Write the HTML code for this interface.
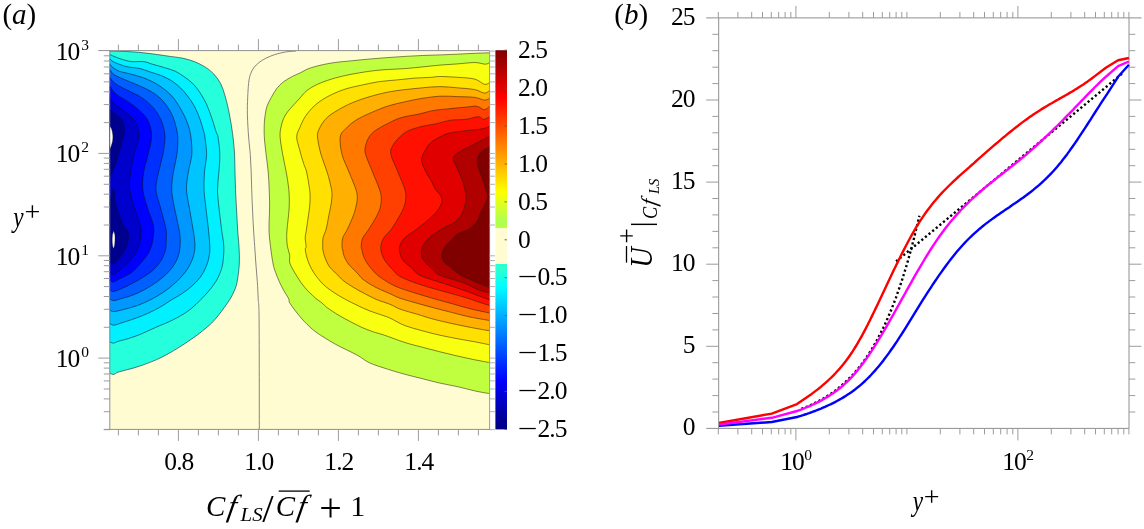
<!DOCTYPE html>
<html><head><meta charset="utf-8"><title>figure</title><style>html,body{margin:0;padding:0;background:#fff}</style></head><body>
<svg width="1144" height="529" viewBox="0 0 1144 529" style="display:block">
<rect width="1144" height="529" fill="#fff"/>
<defs><clipPath id="cp"><rect x="109.8" y="50.6" width="379.8" height="378.8"/></clipPath>
<linearGradient id="cb" x1="0" y1="0" x2="0" y2="1"><stop offset="0.0000" stop-color="#800000"/><stop offset="0.0250" stop-color="#990000"/><stop offset="0.0500" stop-color="#b20000"/><stop offset="0.0750" stop-color="#cc0000"/><stop offset="0.1000" stop-color="#e60000"/><stop offset="0.1250" stop-color="#ff0000"/><stop offset="0.1500" stop-color="#ff1a00"/><stop offset="0.1750" stop-color="#ff3400"/><stop offset="0.2000" stop-color="#ff4d00"/><stop offset="0.2250" stop-color="#ff6700"/><stop offset="0.2500" stop-color="#ff8000"/><stop offset="0.2750" stop-color="#ff9a00"/><stop offset="0.3000" stop-color="#ffb400"/><stop offset="0.3250" stop-color="#ffcd00"/><stop offset="0.3500" stop-color="#ffe700"/><stop offset="0.3750" stop-color="#fdff02"/><stop offset="0.4000" stop-color="#e4ff1b"/><stop offset="0.4250" stop-color="#caff35"/><stop offset="0.4500" stop-color="#b0ff4f"/><stop offset="0.4679" stop-color="#b4ff4a"/><stop offset="0.4684" stop-color="#fffcd2"/><stop offset="0.5630" stop-color="#fffcd2"/><stop offset="0.5635" stop-color="#28ffd8"/><stop offset="0.5750" stop-color="#30ffcf"/><stop offset="0.6000" stop-color="#16ffe9"/><stop offset="0.6250" stop-color="#00fcff"/><stop offset="0.6500" stop-color="#00e2ff"/><stop offset="0.6750" stop-color="#00c9ff"/><stop offset="0.7000" stop-color="#00afff"/><stop offset="0.7250" stop-color="#0095ff"/><stop offset="0.7500" stop-color="#007cff"/><stop offset="0.7750" stop-color="#0062ff"/><stop offset="0.8000" stop-color="#0048ff"/><stop offset="0.8250" stop-color="#002fff"/><stop offset="0.8500" stop-color="#0015ff"/><stop offset="0.8750" stop-color="#0000fa"/><stop offset="0.9000" stop-color="#0000e1"/><stop offset="0.9250" stop-color="#0000c7"/><stop offset="0.9500" stop-color="#0000ad"/><stop offset="0.9750" stop-color="#000094"/><stop offset="1.0000" stop-color="#000080"/></linearGradient></defs>
<g clip-path="url(#cp)">
<rect x="109.8" y="50.6" width="379.8" height="378.8" fill="#fffcd2"/>
<path d="M110 51C111.2 51 112.8 50.9 117.5 51.1C122.2 51.3 131.8 51.7 138.5 52.3C145.2 52.9 152.5 53.9 157.7 54.6C162.9 55.3 165.8 55.8 169.9 56.4C174 57 178.1 57.2 182.2 58.1C186.3 59 190.6 60.1 194.4 61.6C198.2 63.1 201.7 64.9 204.9 66.9C208.1 68.9 211 71 213.6 73.8C216.2 76.6 218.7 79.8 220.6 83.5C222.5 87.2 223.7 91.3 225 95.7C226.3 100.1 227.5 105 228.5 109.7C229.5 114.4 230.3 119.2 231.1 123.7C231.8 128.2 232.4 131.9 233 137C233.6 142.1 234.3 148.7 234.6 154.5C234.9 160.3 234.8 166.2 235 172C235.2 177.8 235.3 183.6 235.5 189.4C235.7 195.2 236.1 200.3 236.4 206.9C236.8 213.5 237.2 222.4 237.6 229C238 235.6 238.7 240.7 239 246.5C239.3 252.3 239.6 258.2 239.3 264C239 269.8 238 277 237.2 281.4C236.4 285.8 235.8 287.3 234.6 290.2C233.4 293.1 231.9 296 230.2 298.9C228.4 301.8 226 305.1 224.1 307.7C222.2 310.3 220.7 312.5 218.9 314.7C217.2 316.9 215.2 319.2 213.6 321C211.9 322.8 211.3 323.5 209 325.5C206.7 327.5 203.1 330.5 200 332.9C196.9 335.3 194.1 337.3 190.7 339.7C187.3 342.1 183.2 344.7 179.4 347.1C175.6 349.5 171.8 351.8 168 353.9C164.2 356 160.5 357.9 156.7 359.6C152.9 361.3 149.2 362.7 145.4 364.1C141.6 365.5 137.8 366.8 134 367.9C130.2 369 125.5 370.1 122.7 370.9C119.9 371.7 118.5 372 117 372.6C115.5 373.2 114.8 374.4 113.6 374.5C112.4 374.6 110.6 373.4 110 373.2L107.8 373.2 L107.8 51 Z" fill="#26ffdc"/>
<path d="M110 54.6C110.7 54.9 112.2 55.7 114 56.4C115.8 57.1 118.1 58.1 121 59C123.9 59.9 127.7 61.2 131.5 61.6C135.3 62 140.2 61.2 143.7 61.6C147.2 62 148.9 63.2 152.4 64.2C155.9 65.2 160.9 66.5 164.7 67.7C168.5 68.9 172 69.7 175.2 71.2C178.4 72.7 181 74.5 183.9 76.5C186.8 78.5 190.1 80.9 192.7 83.5C195.3 86.1 197.4 88.7 199.7 92.2C202 95.7 204.6 100 206.6 104.4C208.6 108.8 210.3 113.7 211.9 118.4C213.5 123.1 215.3 129.3 216.3 132.4C217.3 135.5 217.4 133.3 218 137C218.6 140.7 219.7 148.7 219.8 154.5C220 160.3 219.3 166.2 218.9 172C218.5 177.8 217.5 183.6 217.5 189.4C217.5 195.2 218.2 200.3 218.9 206.9C219.6 213.5 220.7 222.4 221.5 229C222.3 235.6 223.6 240.9 223.8 246.5C224 252.1 223.5 258.3 222.9 262.7C222.3 267.1 221.3 269.7 220.1 272.9C218.9 276.1 217.5 278.9 215.6 281.9C213.7 284.9 211.3 288.1 208.8 291C206.3 293.9 203.8 296.6 200.8 299.6C197.8 302.6 194.3 306.3 190.7 309.1C187.1 311.9 183.2 314.3 179.4 316.5C175.6 318.7 171.2 320.7 168 322.2C164.8 323.7 162.9 324.3 160.1 325.5C157.3 326.7 154.4 328 151 329.5C147.6 331 143.5 333.1 139.7 334.6C135.9 336.1 131.9 337.5 128.3 338.6C124.7 339.7 120.5 340.6 118.1 341.4C115.6 342.1 114.9 343 113.6 343.1C112.2 343.2 110.6 342.2 110 342L107.8 342 L107.8 54.6 Z" fill="#00f0ff"/>
<path d="M110 59C110.5 59.4 111.6 60.7 113.1 61.6C114.6 62.5 116.7 63.3 119.2 64.2C121.7 65.1 124.5 66.2 128 66.9C131.5 67.6 136.4 67.7 140.2 68.6C144 69.5 147.2 70.9 150.7 72.1C154.2 73.3 157.7 74.1 161.2 75.6C164.7 77 168.5 78.8 171.7 80.8C174.9 82.8 177.8 85.3 180.4 87.8C183 90.3 185.1 92.6 187.4 95.7C189.7 98.8 192.4 102.4 194.4 106.2C196.4 110 198.1 114 199.7 118.4C201.3 122.8 203.1 129.3 204 132.4C204.9 135.5 204.5 133.3 204.9 137C205.3 140.7 206.7 148.7 206.6 154.5C206.5 160.3 204.9 166.2 204.5 172C204.1 177.8 203.8 183.6 204 189.4C204.2 195.2 205.1 200.3 205.8 206.9C206.5 213.5 207.7 222.4 208.4 229C209.1 235.6 209.7 242.1 209.8 246.5C210 250.9 209.7 252.5 209.3 255.2C208.9 257.9 208.6 259.8 207.6 262.7C206.6 265.6 205 269.7 203.1 272.9C201.2 276.1 199 279.1 196.3 281.9C193.7 284.7 190.2 287.5 187.2 289.9C184.2 292.3 180.8 294.4 178.1 296.1C175.4 297.8 174.1 298.3 171.3 300C168.5 301.7 165.1 304.2 161.2 306.5C157.2 308.8 152.1 311.4 147.6 313.5C143.1 315.6 138.5 317.2 134 318.8C129.5 320.4 123.8 322.2 120.4 323.3C117 324.4 115.3 325.2 113.6 325.2C111.9 325.2 110.6 323.8 110 323.5L107.8 323.5 L107.8 59 Z" fill="#00c4ff"/>
<path d="M110 64.2C110.4 64.7 110.7 65.7 112.2 66.9C113.7 68.1 116.3 70.1 119.2 71.2C122.1 72.3 125.9 72.8 129.7 73.8C133.5 74.8 138.2 76 142 77.3C145.8 78.6 149.2 80.1 152.4 81.7C155.6 83.3 158.3 85 161.2 87C164.1 89 167.3 91.4 169.9 94C172.5 96.6 174.6 99.2 176.9 102.7C179.2 106.2 182 111.1 183.9 114.9C185.8 118.7 187.1 121.7 188.3 125.4C189.5 129.1 190.3 132.2 190.9 137C191.5 141.8 192.2 148.7 191.8 154.5C191.4 160.3 189.2 166.2 188.3 172C187.4 177.8 186.3 183.6 186.5 189.4C186.7 195.2 188.1 200.3 189.2 206.9C190.3 213.5 192.1 223.5 193 229C193.9 234.5 194.3 236.7 194.6 240C194.9 243.3 195.2 245.8 194.8 249C194.5 252.2 193.8 255.6 192.5 259C191.2 262.4 189 266.6 187 269.7C185 272.8 182.8 275.2 180.5 277.7C178.2 280.2 175.9 282.3 173 284.8C170.1 287.3 166.7 290.1 163 292.5C159.3 294.9 155.3 297.3 151 299.5C146.7 301.7 142.1 303.8 137.4 305.5C132.7 307.2 126.7 308.7 122.7 309.7C118.7 310.7 115.7 311.6 113.6 311.6C111.5 311.7 110.6 310.3 110 310L107.8 310 L107.8 64.2 Z" fill="#0098ff"/>
<path d="M110 69.5C110.5 70.2 111.6 72.5 113.1 73.8C114.6 75.1 116.4 76 119.2 77.3C122 78.6 126.2 80.2 129.7 81.7C133.2 83.2 136.7 84.5 140.2 86.1C143.7 87.7 147.5 89.4 150.7 91.3C153.9 93.2 156.8 95.1 159.4 97.4C162 99.7 164.4 102.5 166.4 105.3C168.4 108.1 170.2 111 171.7 114.1C173.2 117.2 174.2 119.9 175.2 123.7C176.2 127.5 177.5 131.9 177.8 137C178.1 142.1 177.6 148.7 176.9 154.5C176.2 160.3 174.3 166.2 173.4 172C172.5 177.8 171.5 183.6 171.7 189.4C171.8 195.2 173.1 200.3 174.3 206.9C175.5 213.5 178 223.5 179 229C180 234.5 180.1 236.7 180.2 240C180.3 243.3 180.2 246.1 179.8 249.1C179.4 252.1 178.8 255.1 177.6 258.1C176.4 261.1 174.4 264.5 172.5 267.2C170.6 269.9 168.1 272.4 166 274.5C163.9 276.6 161.9 278 160 279.5C158.1 281 157.2 281.8 154.4 283.6C151.6 285.4 146.9 288.4 143.1 290.4C139.3 292.4 135.5 294.1 131.7 295.5C127.9 296.9 123.4 298 120.4 298.9C117.4 299.8 115.3 300.6 113.6 300.6C111.9 300.6 110.6 299.3 110 299L107.8 299 L107.8 69.5 Z" fill="#0060ff"/>
<path d="M110 77.3C110.5 78 111.6 80.2 113.1 81.7C114.6 83.2 116.7 84.6 119.2 86.1C121.7 87.6 124.8 88.9 128 90.5C131.2 92.1 135.3 93.8 138.5 95.7C141.7 97.6 144.6 99.6 147.2 101.8C149.8 104 152.2 106.3 154.2 108.8C156.2 111.3 157.9 113.9 159.4 116.7C160.9 119.5 162 122 162.9 125.4C163.8 128.8 165 132.2 165 137C165 141.8 164 148.7 162.9 154.5C161.8 160.3 159.8 166.2 158.6 172C157.4 177.8 155.6 183.6 155.9 189.4C156.2 195.2 158.6 200.3 160.3 206.9C162 213.5 165 223.5 166 229C167 234.5 166.2 236.7 166.2 240C166.1 243.3 166.2 246.4 165.7 249.1C165.2 251.8 164.3 253.7 163.4 255.9C162.5 258.1 161.7 259.8 160 262.1C158.3 264.5 155.7 267.7 153.3 270C150.9 272.3 148.6 273.6 145.4 275.7C142.2 277.8 137.8 280.4 134 282.5C130.2 284.6 126.1 286.6 122.7 288.1C119.3 289.6 115.7 291.2 113.6 291.5C111.5 291.8 110.6 290.2 110 290L107.8 290 L107.8 77.3 Z" fill="#0030ff"/>
<path d="M110 86.1C110.7 87.1 112.2 90.3 114 92.2C115.8 94.1 118.4 95.7 121 97.4C123.6 99.2 126.8 100.7 129.7 102.7C132.6 104.8 135.9 107.4 138.5 109.7C141.1 112 143.6 114.1 145.5 116.7C147.4 119.3 148.8 122 149.8 125.4C150.8 128.8 151.9 132.2 151.6 137C151.3 141.8 149.4 148.7 148.1 154.5C146.8 160.3 144.6 166.2 143.7 172C142.8 177.8 142.2 183.6 142.8 189.4C143.4 195.2 145.4 201 147.2 206.9C148.9 212.8 152.3 220.1 153.3 225C154.3 229.9 153.6 232.9 153.3 236.3C153 239.7 152.6 242.4 151.6 245.4C150.6 248.4 149.4 251.6 147.6 254.5C145.8 257.4 143 260.4 140.8 263C138.6 265.6 136.6 268.1 134.5 270C132.4 271.9 130.8 273 128.3 274.5C125.8 276 121.8 277.8 119.3 279C116.8 280.2 115.1 281.8 113.6 282C112 282.2 110.6 280.8 110 280.5L107.8 280.5 L107.8 86.1 Z" fill="#0000ff"/>
<path d="M110 97.4C110.7 98.4 112.2 101.7 114 103.6C115.8 105.5 118.7 107 121 108.8C123.3 110.5 125.8 112.2 128 114.1C130.2 116 132.5 118 134.1 120.2C135.7 122.4 136.8 124.4 137.6 127.2C138.4 130 139.4 132.4 138.8 137C138.2 141.6 135.5 148.7 134.1 154.5C132.7 160.3 131.3 166.2 130.6 172C129.9 177.8 129.1 183.6 129.7 189.4C130.3 195.2 132.3 201 134.1 206.9C135.8 212.8 139.1 220.5 140.2 225C141.3 229.5 141 230.7 140.8 234.1C140.6 237.5 140.2 241.8 139.1 245.4C138 249 136 252.6 134 255.6C132 258.6 129.7 261 127.2 263.5C124.8 266 121.6 268.6 119.3 270.4C117 272.2 115.1 274 113.6 274.3C112 274.6 110.6 272.6 110 272.3L107.8 272.3 L107.8 97.4 Z" fill="#0000cc"/>
<path d="M109.6 109C110.9 110.2 115.4 113.8 117.7 116.1C120 118.3 122.1 119.8 123.2 122.5C124.3 125.2 124.3 129 124.1 132.2C123.9 135.4 122.6 138.8 121.9 141.8C121.2 144.8 120.6 146.8 119.7 150C118.8 153.2 117.6 157.5 116.3 161.3C115 165.1 112.8 170.1 111.8 172.7C110.8 175.3 110.3 176.3 110 177L107.8 177 L107.8 109 Z" fill="#00008f"/>
<path d="M110 203C110.3 201.7 111.2 197.3 111.8 195C112.4 192.7 112.9 187.7 113.5 189C114.1 190.3 114.4 198.4 115.4 202.9C116.4 207.4 117.8 211.8 119.3 215.8C120.8 219.8 122.7 224.3 124.1 227C125.5 229.7 127.1 230.2 127.8 232C128.5 233.8 128.4 235.4 128.3 237.5C128.2 239.6 128.1 241.7 127.2 244.3C126.3 246.9 124.2 250.9 122.7 253.3C121.2 255.8 119.6 257.2 118.1 259C116.6 260.8 114.9 263.7 113.6 264.1C112.2 264.5 110.6 261.9 110 261.5L107.8 261.5 L107.8 203 Z" fill="#00008f"/>
<path d="M489.6 52.8C487.1 52.9 480.2 53.1 474.8 53.3C469.4 53.5 463.1 53.9 457.3 54.2C451.5 54.5 445.7 54.7 439.9 54.9C434.1 55.1 428.2 55.2 422.4 55.5C416.6 55.8 410.7 56 404.9 56.4C399.1 56.8 393.2 57.2 387.4 57.6C381.6 58 375.7 58.5 369.9 59C364.1 59.5 358.2 60.1 352.4 60.7C346.6 61.3 340.2 61.8 335 62.5C329.8 63.2 325.4 64.1 321 65.1C316.6 66.1 312.2 67.3 308.7 68.6C305.2 69.9 302.7 71.7 300 73C297.3 74.3 295 75 292.3 76.5C289.6 78 286.2 79.7 283.6 81.7C281 83.7 278.7 86.1 276.6 88.7C274.6 91.3 272.9 94.5 271.3 97.4C269.7 100.3 268 103.3 267 106.2C266 109.1 265.6 112 265.2 114.9C264.8 117.8 264.4 120 264.3 123.7C264.2 127.4 264 131.9 264.3 137C264.6 142.1 265.5 148.7 266.1 154.5C266.8 160.3 267.7 166.2 268.2 172C268.7 177.8 269 183.6 269.2 189.4C269.4 195.2 269.6 200.3 269.6 206.9C269.6 213.5 268.9 222.4 269 229C269.1 235.6 269.8 240.7 270.5 246.5C271.2 252.3 272.2 259.6 273.1 264C274 268.4 274.7 269.8 275.7 272.7C276.7 275.6 277.9 278.5 279.2 281.4C280.5 284.3 282 287.3 283.6 290.2C285.2 293.1 287.7 296.7 288.8 298.9C289.9 301.1 287.9 300.2 290 303.4C292.1 306.6 297.5 313.8 301.3 318.1C305.1 322.5 308.9 326.3 312.7 329.5C316.5 332.7 320.2 334.9 324 337.4C327.8 339.8 331.6 342.1 335.4 344.2C339.2 346.3 342.9 348 346.7 349.9C350.5 351.8 354.1 353.4 358 355.6C361.9 357.8 365 360.8 369.9 363C374.8 365.2 381.6 367.2 387.4 369.1C393.2 371 399.1 372.7 404.9 374.3C410.7 375.9 416.6 377.2 422.4 378.7C428.2 380.2 434.1 381.8 439.9 383.1C445.7 384.4 451.5 385.3 457.3 386.6C463.1 387.9 469.4 389.7 474.8 390.9C480.2 392.1 487.1 393.2 489.6 393.6L491.6 393.6 L491.6 52.8 Z" fill="#c0ff40"/>
<path d="M489.6 62.5C488.9 62.8 487.8 64.2 485.3 64.2C482.8 64.2 479.5 62.5 474.8 62.5C470.1 62.5 463.1 63.5 457.3 63.9C451.5 64.3 445.7 64.6 439.9 65.1C434.1 65.6 428.2 66.3 422.4 66.9C416.6 67.5 410.7 68.2 404.9 68.6C399.1 69 393.2 69.1 387.4 69.5C381.6 69.9 376.3 70.3 369.9 71.2C363.5 72.1 355.4 73.4 349 74.7C342.6 76 336.8 77.5 331.5 79.1C326.2 80.7 321.6 82.4 317.5 84.3C313.4 86.2 309.9 88.2 307 90.5C304.1 92.8 302.1 95.6 300 97.9C297.9 100.2 296.1 102.2 294.1 104.4C292.1 106.7 289.6 109.1 287.9 111.4C286.1 113.7 284.8 115.8 283.6 118.4C282.5 121 281.6 124.1 281 127.2C280.4 130.3 279.8 132.4 280.1 137C280.4 141.6 281.7 148.7 282.7 154.5C283.7 160.3 285.2 166.2 286.2 172C287.2 177.8 288.3 183.6 288.8 189.4C289.3 195.2 289.5 200.3 289.2 206.9C288.9 213.5 287.5 223.9 287.1 229C286.7 234.1 286.6 234.8 286.7 237.7C286.8 240.6 286.9 243.6 287.4 246.5C287.9 249.4 289.3 252.3 289.7 255.2C290.1 258.1 288.8 260.1 290 263.6C291.2 267.1 294.4 272.1 296.8 276.1C299.2 280.1 301.7 283.8 304.7 287.4C307.7 291 312 295 314.9 297.6C317.8 300.2 319.9 301.3 322 303C324.1 304.7 324.6 305.8 327.4 307.9C330.2 309.9 335 313 338.8 315.3C342.6 317.6 346.3 319.5 350.1 321.5C353.9 323.5 357.6 325.5 361.4 327.2C365.2 328.9 369 330.4 372.8 331.7C376.6 333 378.8 333.3 384.1 335.1C389.5 336.9 398.5 340.5 404.9 342.5C411.3 344.5 416.6 345.8 422.4 347.3C428.2 348.9 434.1 350.4 439.9 351.8C445.7 353.2 451.5 354.7 457.3 356C463.1 357.3 469.4 358.7 474.8 359.8C480.2 360.9 487.1 362.1 489.6 362.6L491.6 362.6 L491.6 62.5 Z" fill="#f8ff10"/>
<path d="M489.6 82.6C488.7 82.9 486.9 84.9 484.4 84.3C481.9 83.7 479.3 80.3 474.8 79.1C470.3 77.9 463.1 77.7 457.3 77.3C451.5 76.9 444.3 76.5 439.9 76.5C435.5 76.5 435.5 77 431.1 77.3C426.7 77.6 419.4 77.8 413.6 78.2C407.8 78.7 402 79.4 396.2 80C390.4 80.6 384.5 80.8 378.7 81.7C372.9 82.6 367 83.9 361.2 85.2C355.4 86.5 349.5 87.6 343.7 89.6C337.9 91.6 331.1 94.6 326.2 97.4C321.2 100.2 317.5 103 314 106.2C310.5 109.4 307.5 113.2 305.2 116.7C302.9 120.2 301.4 123.8 300 127.2C298.6 130.6 296.7 133 296.7 137C296.7 141 298.9 146.6 300 151C301.1 155.4 302.4 159.7 303.5 163.2C304.6 166.7 305.6 167.6 306.6 172C307.6 176.4 309 185 309.6 189.4C310.2 193.8 310.1 195.3 310.1 198.2C310.1 201.1 309.9 204 309.6 206.9C309.3 209.8 308.9 212 308.4 215.7C307.9 219.4 307 225.3 306.5 229C306 232.7 305.3 234.8 305.2 237.7C305.1 240.6 306.1 244.4 306.1 246.5C306.1 248.6 305 247.5 305.3 250C305.6 252.5 306.7 257.5 308.1 261.3C309.5 265.1 311.3 268.9 313.8 272.7C316.3 276.5 319.7 280.8 322.9 284C326.1 287.2 329.5 289.5 333.1 292C336.7 294.5 340.2 296.5 344.4 298.8C348.5 301.1 353.8 303.7 358 305.7C362.2 307.7 365.6 309.3 369.4 310.8C373.2 312.3 377.3 313.5 380.7 314.7C384.1 315.9 386 316.3 390 318.1C394 319.9 399.5 323.5 404.9 325.6C410.3 327.7 416.6 329.2 422.4 330.8C428.2 332.4 434.1 333.9 439.9 335.2C445.7 336.5 451.5 337.6 457.3 338.7C463.1 339.8 469.4 340.8 474.8 341.8C480.2 342.8 487.1 344.3 489.6 344.8L491.6 344.8 L491.6 82.6 Z" fill="#ffe000"/>
<path d="M489.6 90.5C488.7 90.9 486.9 93.2 484.4 93.1C481.9 92.9 479.3 90.5 474.8 89.6C470.3 88.7 463.1 88.3 457.3 87.8C451.5 87.3 445.7 86.6 439.9 86.6C434.1 86.6 428.2 87.3 422.4 87.8C416.6 88.3 410.7 88.9 404.9 89.6C399.1 90.3 393.2 91 387.4 92.2C381.6 93.4 375.7 94.8 369.9 96.6C364.1 98.3 357.6 100.5 352.4 102.7C347.2 104.9 342.9 107.1 338.5 109.7C334.1 112.3 329.4 115.2 326.2 118.4C323 121.6 320.6 125.8 319.2 128.9C317.8 132 317.2 132.7 317.5 137C317.8 141.3 319.4 148.7 321 154.5C322.6 160.3 325.4 166.2 327.1 172C328.9 177.8 330.7 185 331.5 189.4C332.3 193.8 331.9 195.3 331.8 198.2C331.7 201.1 331.1 204 330.6 206.9C330.1 209.8 329.5 212 328.8 215.7C328.1 219.4 327.1 225.3 326.2 229C325.2 232.7 323.7 234.8 323.1 237.7C322.5 240.6 322.7 244.4 322.7 246.5C322.7 248.6 322.5 248.1 322.9 250C323.3 251.9 324 255.1 325.1 257.9C326.2 260.7 327.6 264.2 329.7 267C331.8 269.8 335.3 272.6 337.6 274.9C339.9 277.2 340.7 278.5 343.3 280.6C345.9 282.7 350.1 285.3 353.5 287.4C356.9 289.5 359.9 291.1 363.7 293.1C367.5 295.1 371.8 297.5 376.2 299.4C380.6 301.3 386 302.7 390 304.3C394 305.9 395.4 307.4 400 309.1C404.6 310.8 411.7 312.6 417.5 314.3C423.3 316.1 428.4 317.9 435 319.6C441.6 321.3 450.7 323.3 457.3 324.7C463.9 326.1 469.4 327.2 474.8 328.2C480.2 329.2 487.1 330.4 489.6 330.8L491.6 330.8 L491.6 90.5 Z" fill="#ffb000"/>
<path d="M489.6 98.3C488.7 98.6 486.9 100.2 484.4 100.1C481.9 99.9 479.3 98 474.8 97.4C470.3 96.8 463.1 96.8 457.3 96.6C451.5 96.4 445.7 95.9 439.9 96.2C434.1 96.5 428.2 97.4 422.4 98.3C416.6 99.2 410.7 100.5 404.9 101.8C399.1 103.1 393.2 104.3 387.4 106.2C381.6 108.1 375.1 110.9 369.9 113.2C364.6 115.5 360 117.6 355.9 120.2C351.8 122.8 348.1 126.1 345.5 128.9C342.9 131.7 340.8 132.7 340.2 137C339.6 141.3 340.5 148.7 342 154.5C343.5 160.3 346.7 166.2 349 172C351.3 177.8 354.5 185 355.9 189.4C357.3 193.8 357.3 195.3 357.3 198.2C357.3 201.1 356.6 204 355.9 206.9C355.2 209.8 354.7 212 353.3 215.7C351.9 219.4 349.2 225.3 347.5 229C345.8 232.7 343.7 234.8 342.8 237.7C341.9 240.6 342 244.4 342 246.5C342 248.6 342.3 248.3 342.7 250C343.1 251.7 343.3 254.4 344.4 256.8C345.4 259.2 346.9 262.1 349 264.7C351.1 267.3 354.6 270.3 356.9 272.7C359.2 275.1 360.2 276.9 362.6 279C365.1 281.1 368.6 283.3 371.6 285.1C374.6 286.9 377.6 288.3 380.7 289.7C383.8 291.1 386.8 292.3 390 293.7C393.2 295.1 395.4 296.6 400 298.2C404.6 299.8 411.7 301.7 417.5 303.4C423.3 305.1 429.2 306.7 435 308.2C440.8 309.7 446.6 311.1 452.4 312.6C458.2 314.1 463.7 315.7 469.9 317C476.1 318.3 486.3 319.9 489.6 320.5L491.6 320.5 L491.6 98.3 Z" fill="#ff7800"/>
<path d="M489.6 106.2C488.7 106.8 486.6 109.7 484.4 109.7C482.2 109.7 479.7 106.6 476.6 106.2C473.6 105.8 470.8 106.7 466.1 107.1C461.4 107.5 454.1 108.2 448.6 108.8C443.1 109.4 437.8 109.7 432.9 110.6C427.9 111.5 424.1 112.9 418.9 114.1C413.6 115.3 406.6 116 401.4 117.6C396.1 119.2 391.8 121.5 387.4 123.7C383 125.9 378.2 128.5 375.2 130.7C372.1 132.9 370.7 134.5 369.1 137C367.5 139.5 366.2 142.8 365.6 145.7C365 148.6 364.4 150.1 365.6 154.5C366.8 158.9 370.3 166.2 372.6 172C374.9 177.8 378.1 185 379.5 189.4C380.9 193.8 381.2 195.3 381.3 198.2C381.4 201.1 381.1 204 380.4 206.9C379.7 209.8 378.8 212 376.9 215.7C375 219.4 371.3 225.3 369 229C366.7 232.7 364.2 234.8 362.9 237.7C361.6 240.6 361.3 244.4 361.2 246.5C361.1 248.6 361.6 248.3 362 250C362.4 251.7 362.7 254.4 363.7 256.8C364.7 259.2 366.1 261.8 368.2 264.7C370.3 267.6 373.8 271.8 376.5 274.3C379.2 276.9 382.1 278.5 384.4 280C386.6 281.5 387.4 282.1 390 283.5C392.6 284.9 395.4 286.4 400 288.1C404.6 289.8 411.7 292 417.5 293.8C423.3 295.6 429.2 297.3 435 299C440.8 300.7 446.6 302.2 452.4 303.8C458.2 305.4 463.7 307.2 469.9 308.7C476.1 310.2 486.3 312.3 489.6 313L491.6 313 L491.6 106.2 Z" fill="#ff4000"/>
<path d="M489.6 116.7C488.6 117.1 485.5 119.3 483.6 119.3C481.7 119.3 481.2 116.7 478.3 116.7C475.4 116.7 470.8 118.7 466.1 119.3C461.4 119.9 455.2 119.5 450.3 120.2C445.4 120.9 441 122.7 436.4 123.7C431.8 124.7 427.1 125.1 422.4 126.3C417.7 127.5 412.2 128.9 408.4 130.7C404.6 132.5 402.3 134.5 399.7 137C397.1 139.5 394.2 142.8 392.7 145.7C391.2 148.6 390 150.1 390.9 154.5C391.8 158.9 395.6 166.2 397.9 172C400.2 177.8 403.6 185 404.9 189.4C406.2 193.8 405.9 195.3 405.8 198.2C405.7 201.1 405 204 404 206.9C403 209.8 401.8 212 399.7 215.7C397.6 219.4 394.1 225.3 391.5 229C388.9 232.7 385.7 234.8 383.9 237.7C382.1 240.6 381.1 243.6 380.8 246.5C380.5 249.4 381.3 252.6 382.2 255.2C383.1 257.8 384.4 259.7 386 262C387.6 264.3 389.7 266.6 392 269C394.3 271.4 395.8 274.1 400 276.5C404.2 278.9 411.7 281.6 417.5 283.7C423.3 285.8 429.2 287.3 435 289C440.8 290.7 446.6 292.1 452.4 293.8C458.2 295.5 465.5 297.6 469.9 299C474.3 300.4 475.4 301 478.7 302.1C482 303.2 487.8 305 489.6 305.6L491.6 305.6 L491.6 116.7 Z" fill="#ff1000"/>
<path d="M489.6 126.3C488.3 126.7 485.7 128.2 481.8 128.9C477.9 129.6 471.6 130 466.1 130.7C460.6 131.4 453 132.2 448.6 133.3C444.2 134.4 442.8 135.5 439.9 137C437 138.5 433.4 140.2 431.1 142.2C428.8 144.2 427.5 146.3 425.9 149.2C424.3 152.1 421.5 155.9 421.5 159.7C421.5 163.5 424.3 168.5 425.9 172C427.5 175.5 429.5 177.8 431.1 180.7C432.7 183.6 434 187.1 435.5 189.4C437 191.7 438.8 192.9 439.9 194.7C441 196.4 442 197.9 442 199.9C442 201.9 441.4 204.3 439.9 206.9C438.4 209.5 436.7 212 432.9 215.7C429.1 219.4 421.7 225.3 417 229C412.3 232.7 407.8 234.8 404.9 237.7C402 240.6 400.4 243.6 399.7 246.5C399 249.4 399.8 252.7 400.5 255.2C401.2 257.7 402.2 259.4 404 261.5C405.8 263.6 408.5 265.2 411 267.5C413.5 269.8 415.2 272.8 419.2 275C423.2 277.2 429.5 278.8 435 280.7C440.5 282.6 446.6 284.4 452.4 286.4C458.2 288.4 465.5 290.9 469.9 292.5C474.3 294.1 475.4 294.8 478.7 296C482 297.2 487.8 299.2 489.6 299.9L491.6 299.9 L491.6 126.3 Z" fill="#e00000"/>
<path d="M489.6 136C487.1 137.3 479 141.8 474.8 144C470.6 146.2 467.5 147.4 464.3 149.2C461.1 150.9 457.4 152.8 455.6 154.5C453.8 156.2 453.2 157.4 453.5 159.7C453.8 162 455.8 165 457.3 168.5C458.8 172 461.3 176.9 462.6 180.7C463.9 184.5 464.6 188.3 465.2 191.2C465.8 194.1 466.2 195.6 466.1 198.2C466 200.8 465.2 204 464.3 206.9C463.4 209.8 462.6 213.1 460.8 215.7C459.1 218.3 457 220.5 453.8 222.7C450.6 224.9 445.6 226.5 441.5 229C437.4 231.5 432.6 234.8 429.4 237.7C426.2 240.6 423.7 243.6 422.4 246.5C421.1 249.4 421.1 252.6 421.5 255.2C421.9 257.8 423.4 259.9 425 262C426.6 264.1 428.6 265.8 431 268C433.4 270.2 435.7 273.1 439.3 275C442.9 276.9 448 277.9 452.4 279.4C456.8 280.8 461.2 281.9 465.6 283.7C470 285.4 474.7 288.4 478.7 289.9C482.7 291.4 487.8 292.4 489.6 292.9L491.6 292.9 L491.6 136 Z" fill="#b00000"/>
<path d="M489.6 147.5C488.6 147.9 485.3 148.9 483.6 150.1C481.9 151.3 480.2 152.6 479.2 154.5C478.2 156.4 477.4 158.9 477.4 161.5C477.4 164.1 478.3 167.3 479.2 170.2C480.1 173.1 481.7 176.1 482.7 179C483.7 181.9 484.5 185.1 485.3 187.7C486.1 190.3 487.1 193 487.5 194.7C487.9 196.4 487.9 196.6 487.5 198C487.1 199.4 486.5 200.8 485.3 203.4C484.1 206.1 481.4 211 480.1 213.9C478.8 216.8 479.2 218.4 477.4 220.9C475.5 223.4 472.4 226.8 469 229C465.6 231.2 460.1 232.4 457.3 234.2C454.5 235.9 454.1 237.4 452.1 239.5C450.1 241.6 446.8 243.9 445.1 246.5C443.4 249.1 442.2 252.6 442 255.2C441.8 257.8 442.6 260 444 262C445.4 264 447.6 264.8 450.3 267C453 269.2 457 272.9 460.3 275C463.6 277.1 466.8 278 469.9 279.4C473 280.8 475.4 281.9 478.7 283.3C482 284.7 487.8 287 489.6 287.7L491.6 287.7 L491.6 147.5 Z" fill="#800000"/>
<path d="M110 126.5C110.3 126.9 111.1 127.6 111.6 129C112.1 130.4 112.6 133 112.8 135C113 137 112.9 139.2 112.6 141C112.3 142.8 111.6 144.8 111.2 146C110.8 147.2 110.5 149.5 110 148C109.5 146.5 108.3 138.8 108 137 Z" fill="#fff" stroke="#223" stroke-width="0.4"/>
<path d="M113.6 230.8C113.8 231.5 114.7 233.5 114.9 235C115.1 236.5 115 238.3 115 240C115 241.7 114.8 243.6 114.6 245C114.4 246.4 113.9 248.2 113.6 248.2C113.2 248.2 112.7 246.4 112.5 245C112.3 243.6 112.2 241.7 112.2 240C112.2 238.3 112.4 235.8 112.4 235 Z" fill="#fff" stroke="#223" stroke-width="0.4"/>
<path d="M110 51C111.2 51 112.8 50.9 117.5 51.1C122.2 51.3 131.8 51.7 138.5 52.3C145.2 52.9 152.5 53.9 157.7 54.6C162.9 55.3 165.8 55.8 169.9 56.4C174 57 178.1 57.2 182.2 58.1C186.3 59 190.6 60.1 194.4 61.6C198.2 63.1 201.7 64.9 204.9 66.9C208.1 68.9 211 71 213.6 73.8C216.2 76.6 218.7 79.8 220.6 83.5C222.5 87.2 223.7 91.3 225 95.7C226.3 100.1 227.5 105 228.5 109.7C229.5 114.4 230.3 119.2 231.1 123.7C231.8 128.2 232.4 131.9 233 137C233.6 142.1 234.3 148.7 234.6 154.5C234.9 160.3 234.8 166.2 235 172C235.2 177.8 235.3 183.6 235.5 189.4C235.7 195.2 236.1 200.3 236.4 206.9C236.8 213.5 237.2 222.4 237.6 229C238 235.6 238.7 240.7 239 246.5C239.3 252.3 239.6 258.2 239.3 264C239 269.8 238 277 237.2 281.4C236.4 285.8 235.8 287.3 234.6 290.2C233.4 293.1 231.9 296 230.2 298.9C228.4 301.8 226 305.1 224.1 307.7C222.2 310.3 220.7 312.5 218.9 314.7C217.2 316.9 215.2 319.2 213.6 321C211.9 322.8 211.3 323.5 209 325.5C206.7 327.5 203.1 330.5 200 332.9C196.9 335.3 194.1 337.3 190.7 339.7C187.3 342.1 183.2 344.7 179.4 347.1C175.6 349.5 171.8 351.8 168 353.9C164.2 356 160.5 357.9 156.7 359.6C152.9 361.3 149.2 362.7 145.4 364.1C141.6 365.5 137.8 366.8 134 367.9C130.2 369 125.5 370.1 122.7 370.9C119.9 371.7 118.5 372 117 372.6C115.5 373.2 114.8 374.4 113.6 374.5C112.4 374.6 110.6 373.4 110 373.2" fill="none" stroke="#060c24" stroke-opacity="0.9" stroke-width="0.6"/>
<path d="M110 54.6C110.7 54.9 112.2 55.7 114 56.4C115.8 57.1 118.1 58.1 121 59C123.9 59.9 127.7 61.2 131.5 61.6C135.3 62 140.2 61.2 143.7 61.6C147.2 62 148.9 63.2 152.4 64.2C155.9 65.2 160.9 66.5 164.7 67.7C168.5 68.9 172 69.7 175.2 71.2C178.4 72.7 181 74.5 183.9 76.5C186.8 78.5 190.1 80.9 192.7 83.5C195.3 86.1 197.4 88.7 199.7 92.2C202 95.7 204.6 100 206.6 104.4C208.6 108.8 210.3 113.7 211.9 118.4C213.5 123.1 215.3 129.3 216.3 132.4C217.3 135.5 217.4 133.3 218 137C218.6 140.7 219.7 148.7 219.8 154.5C220 160.3 219.3 166.2 218.9 172C218.5 177.8 217.5 183.6 217.5 189.4C217.5 195.2 218.2 200.3 218.9 206.9C219.6 213.5 220.7 222.4 221.5 229C222.3 235.6 223.6 240.9 223.8 246.5C224 252.1 223.5 258.3 222.9 262.7C222.3 267.1 221.3 269.7 220.1 272.9C218.9 276.1 217.5 278.9 215.6 281.9C213.7 284.9 211.3 288.1 208.8 291C206.3 293.9 203.8 296.6 200.8 299.6C197.8 302.6 194.3 306.3 190.7 309.1C187.1 311.9 183.2 314.3 179.4 316.5C175.6 318.7 171.2 320.7 168 322.2C164.8 323.7 162.9 324.3 160.1 325.5C157.3 326.7 154.4 328 151 329.5C147.6 331 143.5 333.1 139.7 334.6C135.9 336.1 131.9 337.5 128.3 338.6C124.7 339.7 120.5 340.6 118.1 341.4C115.6 342.1 114.9 343 113.6 343.1C112.2 343.2 110.6 342.2 110 342" fill="none" stroke="#060c24" stroke-opacity="0.9" stroke-width="0.6"/>
<path d="M110 59C110.5 59.4 111.6 60.7 113.1 61.6C114.6 62.5 116.7 63.3 119.2 64.2C121.7 65.1 124.5 66.2 128 66.9C131.5 67.6 136.4 67.7 140.2 68.6C144 69.5 147.2 70.9 150.7 72.1C154.2 73.3 157.7 74.1 161.2 75.6C164.7 77 168.5 78.8 171.7 80.8C174.9 82.8 177.8 85.3 180.4 87.8C183 90.3 185.1 92.6 187.4 95.7C189.7 98.8 192.4 102.4 194.4 106.2C196.4 110 198.1 114 199.7 118.4C201.3 122.8 203.1 129.3 204 132.4C204.9 135.5 204.5 133.3 204.9 137C205.3 140.7 206.7 148.7 206.6 154.5C206.5 160.3 204.9 166.2 204.5 172C204.1 177.8 203.8 183.6 204 189.4C204.2 195.2 205.1 200.3 205.8 206.9C206.5 213.5 207.7 222.4 208.4 229C209.1 235.6 209.7 242.1 209.8 246.5C210 250.9 209.7 252.5 209.3 255.2C208.9 257.9 208.6 259.8 207.6 262.7C206.6 265.6 205 269.7 203.1 272.9C201.2 276.1 199 279.1 196.3 281.9C193.7 284.7 190.2 287.5 187.2 289.9C184.2 292.3 180.8 294.4 178.1 296.1C175.4 297.8 174.1 298.3 171.3 300C168.5 301.7 165.1 304.2 161.2 306.5C157.2 308.8 152.1 311.4 147.6 313.5C143.1 315.6 138.5 317.2 134 318.8C129.5 320.4 123.8 322.2 120.4 323.3C117 324.4 115.3 325.2 113.6 325.2C111.9 325.2 110.6 323.8 110 323.5" fill="none" stroke="#060c24" stroke-opacity="0.9" stroke-width="0.6"/>
<path d="M110 64.2C110.4 64.7 110.7 65.7 112.2 66.9C113.7 68.1 116.3 70.1 119.2 71.2C122.1 72.3 125.9 72.8 129.7 73.8C133.5 74.8 138.2 76 142 77.3C145.8 78.6 149.2 80.1 152.4 81.7C155.6 83.3 158.3 85 161.2 87C164.1 89 167.3 91.4 169.9 94C172.5 96.6 174.6 99.2 176.9 102.7C179.2 106.2 182 111.1 183.9 114.9C185.8 118.7 187.1 121.7 188.3 125.4C189.5 129.1 190.3 132.2 190.9 137C191.5 141.8 192.2 148.7 191.8 154.5C191.4 160.3 189.2 166.2 188.3 172C187.4 177.8 186.3 183.6 186.5 189.4C186.7 195.2 188.1 200.3 189.2 206.9C190.3 213.5 192.1 223.5 193 229C193.9 234.5 194.3 236.7 194.6 240C194.9 243.3 195.2 245.8 194.8 249C194.5 252.2 193.8 255.6 192.5 259C191.2 262.4 189 266.6 187 269.7C185 272.8 182.8 275.2 180.5 277.7C178.2 280.2 175.9 282.3 173 284.8C170.1 287.3 166.7 290.1 163 292.5C159.3 294.9 155.3 297.3 151 299.5C146.7 301.7 142.1 303.8 137.4 305.5C132.7 307.2 126.7 308.7 122.7 309.7C118.7 310.7 115.7 311.6 113.6 311.6C111.5 311.7 110.6 310.3 110 310" fill="none" stroke="#060c24" stroke-opacity="0.9" stroke-width="0.6"/>
<path d="M110 69.5C110.5 70.2 111.6 72.5 113.1 73.8C114.6 75.1 116.4 76 119.2 77.3C122 78.6 126.2 80.2 129.7 81.7C133.2 83.2 136.7 84.5 140.2 86.1C143.7 87.7 147.5 89.4 150.7 91.3C153.9 93.2 156.8 95.1 159.4 97.4C162 99.7 164.4 102.5 166.4 105.3C168.4 108.1 170.2 111 171.7 114.1C173.2 117.2 174.2 119.9 175.2 123.7C176.2 127.5 177.5 131.9 177.8 137C178.1 142.1 177.6 148.7 176.9 154.5C176.2 160.3 174.3 166.2 173.4 172C172.5 177.8 171.5 183.6 171.7 189.4C171.8 195.2 173.1 200.3 174.3 206.9C175.5 213.5 178 223.5 179 229C180 234.5 180.1 236.7 180.2 240C180.3 243.3 180.2 246.1 179.8 249.1C179.4 252.1 178.8 255.1 177.6 258.1C176.4 261.1 174.4 264.5 172.5 267.2C170.6 269.9 168.1 272.4 166 274.5C163.9 276.6 161.9 278 160 279.5C158.1 281 157.2 281.8 154.4 283.6C151.6 285.4 146.9 288.4 143.1 290.4C139.3 292.4 135.5 294.1 131.7 295.5C127.9 296.9 123.4 298 120.4 298.9C117.4 299.8 115.3 300.6 113.6 300.6C111.9 300.6 110.6 299.3 110 299" fill="none" stroke="#060c24" stroke-opacity="0.9" stroke-width="0.6"/>
<path d="M110 77.3C110.5 78 111.6 80.2 113.1 81.7C114.6 83.2 116.7 84.6 119.2 86.1C121.7 87.6 124.8 88.9 128 90.5C131.2 92.1 135.3 93.8 138.5 95.7C141.7 97.6 144.6 99.6 147.2 101.8C149.8 104 152.2 106.3 154.2 108.8C156.2 111.3 157.9 113.9 159.4 116.7C160.9 119.5 162 122 162.9 125.4C163.8 128.8 165 132.2 165 137C165 141.8 164 148.7 162.9 154.5C161.8 160.3 159.8 166.2 158.6 172C157.4 177.8 155.6 183.6 155.9 189.4C156.2 195.2 158.6 200.3 160.3 206.9C162 213.5 165 223.5 166 229C167 234.5 166.2 236.7 166.2 240C166.1 243.3 166.2 246.4 165.7 249.1C165.2 251.8 164.3 253.7 163.4 255.9C162.5 258.1 161.7 259.8 160 262.1C158.3 264.5 155.7 267.7 153.3 270C150.9 272.3 148.6 273.6 145.4 275.7C142.2 277.8 137.8 280.4 134 282.5C130.2 284.6 126.1 286.6 122.7 288.1C119.3 289.6 115.7 291.2 113.6 291.5C111.5 291.8 110.6 290.2 110 290" fill="none" stroke="#060c24" stroke-opacity="0.9" stroke-width="0.6"/>
<path d="M110 86.1C110.7 87.1 112.2 90.3 114 92.2C115.8 94.1 118.4 95.7 121 97.4C123.6 99.2 126.8 100.7 129.7 102.7C132.6 104.8 135.9 107.4 138.5 109.7C141.1 112 143.6 114.1 145.5 116.7C147.4 119.3 148.8 122 149.8 125.4C150.8 128.8 151.9 132.2 151.6 137C151.3 141.8 149.4 148.7 148.1 154.5C146.8 160.3 144.6 166.2 143.7 172C142.8 177.8 142.2 183.6 142.8 189.4C143.4 195.2 145.4 201 147.2 206.9C148.9 212.8 152.3 220.1 153.3 225C154.3 229.9 153.6 232.9 153.3 236.3C153 239.7 152.6 242.4 151.6 245.4C150.6 248.4 149.4 251.6 147.6 254.5C145.8 257.4 143 260.4 140.8 263C138.6 265.6 136.6 268.1 134.5 270C132.4 271.9 130.8 273 128.3 274.5C125.8 276 121.8 277.8 119.3 279C116.8 280.2 115.1 281.8 113.6 282C112 282.2 110.6 280.8 110 280.5" fill="none" stroke="#060c24" stroke-opacity="0.9" stroke-width="0.6"/>
<path d="M110 97.4C110.7 98.4 112.2 101.7 114 103.6C115.8 105.5 118.7 107 121 108.8C123.3 110.5 125.8 112.2 128 114.1C130.2 116 132.5 118 134.1 120.2C135.7 122.4 136.8 124.4 137.6 127.2C138.4 130 139.4 132.4 138.8 137C138.2 141.6 135.5 148.7 134.1 154.5C132.7 160.3 131.3 166.2 130.6 172C129.9 177.8 129.1 183.6 129.7 189.4C130.3 195.2 132.3 201 134.1 206.9C135.8 212.8 139.1 220.5 140.2 225C141.3 229.5 141 230.7 140.8 234.1C140.6 237.5 140.2 241.8 139.1 245.4C138 249 136 252.6 134 255.6C132 258.6 129.7 261 127.2 263.5C124.8 266 121.6 268.6 119.3 270.4C117 272.2 115.1 274 113.6 274.3C112 274.6 110.6 272.6 110 272.3" fill="none" stroke="#060c24" stroke-opacity="0.9" stroke-width="0.6"/>
<path d="M109.6 109C110.9 110.2 115.4 113.8 117.7 116.1C120 118.3 122.1 119.8 123.2 122.5C124.3 125.2 124.3 129 124.1 132.2C123.9 135.4 122.6 138.8 121.9 141.8C121.2 144.8 120.6 146.8 119.7 150C118.8 153.2 117.6 157.5 116.3 161.3C115 165.1 112.8 170.1 111.8 172.7C110.8 175.3 110.3 176.3 110 177" fill="none" stroke="#060c24" stroke-opacity="0.9" stroke-width="0.6"/>
<path d="M110 203C110.3 201.7 111.2 197.3 111.8 195C112.4 192.7 112.9 187.7 113.5 189C114.1 190.3 114.4 198.4 115.4 202.9C116.4 207.4 117.8 211.8 119.3 215.8C120.8 219.8 122.7 224.3 124.1 227C125.5 229.7 127.1 230.2 127.8 232C128.5 233.8 128.4 235.4 128.3 237.5C128.2 239.6 128.1 241.7 127.2 244.3C126.3 246.9 124.2 250.9 122.7 253.3C121.2 255.8 119.6 257.2 118.1 259C116.6 260.8 114.9 263.7 113.6 264.1C112.2 264.5 110.6 261.9 110 261.5" fill="none" stroke="#060c24" stroke-opacity="0.9" stroke-width="0.6"/>
<path d="M489.6 52.8C487.1 52.9 480.2 53.1 474.8 53.3C469.4 53.5 463.1 53.9 457.3 54.2C451.5 54.5 445.7 54.7 439.9 54.9C434.1 55.1 428.2 55.2 422.4 55.5C416.6 55.8 410.7 56 404.9 56.4C399.1 56.8 393.2 57.2 387.4 57.6C381.6 58 375.7 58.5 369.9 59C364.1 59.5 358.2 60.1 352.4 60.7C346.6 61.3 340.2 61.8 335 62.5C329.8 63.2 325.4 64.1 321 65.1C316.6 66.1 312.2 67.3 308.7 68.6C305.2 69.9 302.7 71.7 300 73C297.3 74.3 295 75 292.3 76.5C289.6 78 286.2 79.7 283.6 81.7C281 83.7 278.7 86.1 276.6 88.7C274.6 91.3 272.9 94.5 271.3 97.4C269.7 100.3 268 103.3 267 106.2C266 109.1 265.6 112 265.2 114.9C264.8 117.8 264.4 120 264.3 123.7C264.2 127.4 264 131.9 264.3 137C264.6 142.1 265.5 148.7 266.1 154.5C266.8 160.3 267.7 166.2 268.2 172C268.7 177.8 269 183.6 269.2 189.4C269.4 195.2 269.6 200.3 269.6 206.9C269.6 213.5 268.9 222.4 269 229C269.1 235.6 269.8 240.7 270.5 246.5C271.2 252.3 272.2 259.6 273.1 264C274 268.4 274.7 269.8 275.7 272.7C276.7 275.6 277.9 278.5 279.2 281.4C280.5 284.3 282 287.3 283.6 290.2C285.2 293.1 287.7 296.7 288.8 298.9C289.9 301.1 287.9 300.2 290 303.4C292.1 306.6 297.5 313.8 301.3 318.1C305.1 322.5 308.9 326.3 312.7 329.5C316.5 332.7 320.2 334.9 324 337.4C327.8 339.8 331.6 342.1 335.4 344.2C339.2 346.3 342.9 348 346.7 349.9C350.5 351.8 354.1 353.4 358 355.6C361.9 357.8 365 360.8 369.9 363C374.8 365.2 381.6 367.2 387.4 369.1C393.2 371 399.1 372.7 404.9 374.3C410.7 375.9 416.6 377.2 422.4 378.7C428.2 380.2 434.1 381.8 439.9 383.1C445.7 384.4 451.5 385.3 457.3 386.6C463.1 387.9 469.4 389.7 474.8 390.9C480.2 392.1 487.1 393.2 489.6 393.6" fill="none" stroke="#2a1c00" stroke-opacity="0.9" stroke-width="0.6"/>
<path d="M489.6 62.5C488.9 62.8 487.8 64.2 485.3 64.2C482.8 64.2 479.5 62.5 474.8 62.5C470.1 62.5 463.1 63.5 457.3 63.9C451.5 64.3 445.7 64.6 439.9 65.1C434.1 65.6 428.2 66.3 422.4 66.9C416.6 67.5 410.7 68.2 404.9 68.6C399.1 69 393.2 69.1 387.4 69.5C381.6 69.9 376.3 70.3 369.9 71.2C363.5 72.1 355.4 73.4 349 74.7C342.6 76 336.8 77.5 331.5 79.1C326.2 80.7 321.6 82.4 317.5 84.3C313.4 86.2 309.9 88.2 307 90.5C304.1 92.8 302.1 95.6 300 97.9C297.9 100.2 296.1 102.2 294.1 104.4C292.1 106.7 289.6 109.1 287.9 111.4C286.1 113.7 284.8 115.8 283.6 118.4C282.5 121 281.6 124.1 281 127.2C280.4 130.3 279.8 132.4 280.1 137C280.4 141.6 281.7 148.7 282.7 154.5C283.7 160.3 285.2 166.2 286.2 172C287.2 177.8 288.3 183.6 288.8 189.4C289.3 195.2 289.5 200.3 289.2 206.9C288.9 213.5 287.5 223.9 287.1 229C286.7 234.1 286.6 234.8 286.7 237.7C286.8 240.6 286.9 243.6 287.4 246.5C287.9 249.4 289.3 252.3 289.7 255.2C290.1 258.1 288.8 260.1 290 263.6C291.2 267.1 294.4 272.1 296.8 276.1C299.2 280.1 301.7 283.8 304.7 287.4C307.7 291 312 295 314.9 297.6C317.8 300.2 319.9 301.3 322 303C324.1 304.7 324.6 305.8 327.4 307.9C330.2 309.9 335 313 338.8 315.3C342.6 317.6 346.3 319.5 350.1 321.5C353.9 323.5 357.6 325.5 361.4 327.2C365.2 328.9 369 330.4 372.8 331.7C376.6 333 378.8 333.3 384.1 335.1C389.5 336.9 398.5 340.5 404.9 342.5C411.3 344.5 416.6 345.8 422.4 347.3C428.2 348.9 434.1 350.4 439.9 351.8C445.7 353.2 451.5 354.7 457.3 356C463.1 357.3 469.4 358.7 474.8 359.8C480.2 360.9 487.1 362.1 489.6 362.6" fill="none" stroke="#2a1c00" stroke-opacity="0.9" stroke-width="0.6"/>
<path d="M489.6 82.6C488.7 82.9 486.9 84.9 484.4 84.3C481.9 83.7 479.3 80.3 474.8 79.1C470.3 77.9 463.1 77.7 457.3 77.3C451.5 76.9 444.3 76.5 439.9 76.5C435.5 76.5 435.5 77 431.1 77.3C426.7 77.6 419.4 77.8 413.6 78.2C407.8 78.7 402 79.4 396.2 80C390.4 80.6 384.5 80.8 378.7 81.7C372.9 82.6 367 83.9 361.2 85.2C355.4 86.5 349.5 87.6 343.7 89.6C337.9 91.6 331.1 94.6 326.2 97.4C321.2 100.2 317.5 103 314 106.2C310.5 109.4 307.5 113.2 305.2 116.7C302.9 120.2 301.4 123.8 300 127.2C298.6 130.6 296.7 133 296.7 137C296.7 141 298.9 146.6 300 151C301.1 155.4 302.4 159.7 303.5 163.2C304.6 166.7 305.6 167.6 306.6 172C307.6 176.4 309 185 309.6 189.4C310.2 193.8 310.1 195.3 310.1 198.2C310.1 201.1 309.9 204 309.6 206.9C309.3 209.8 308.9 212 308.4 215.7C307.9 219.4 307 225.3 306.5 229C306 232.7 305.3 234.8 305.2 237.7C305.1 240.6 306.1 244.4 306.1 246.5C306.1 248.6 305 247.5 305.3 250C305.6 252.5 306.7 257.5 308.1 261.3C309.5 265.1 311.3 268.9 313.8 272.7C316.3 276.5 319.7 280.8 322.9 284C326.1 287.2 329.5 289.5 333.1 292C336.7 294.5 340.2 296.5 344.4 298.8C348.5 301.1 353.8 303.7 358 305.7C362.2 307.7 365.6 309.3 369.4 310.8C373.2 312.3 377.3 313.5 380.7 314.7C384.1 315.9 386 316.3 390 318.1C394 319.9 399.5 323.5 404.9 325.6C410.3 327.7 416.6 329.2 422.4 330.8C428.2 332.4 434.1 333.9 439.9 335.2C445.7 336.5 451.5 337.6 457.3 338.7C463.1 339.8 469.4 340.8 474.8 341.8C480.2 342.8 487.1 344.3 489.6 344.8" fill="none" stroke="#2a1c00" stroke-opacity="0.9" stroke-width="0.6"/>
<path d="M489.6 90.5C488.7 90.9 486.9 93.2 484.4 93.1C481.9 92.9 479.3 90.5 474.8 89.6C470.3 88.7 463.1 88.3 457.3 87.8C451.5 87.3 445.7 86.6 439.9 86.6C434.1 86.6 428.2 87.3 422.4 87.8C416.6 88.3 410.7 88.9 404.9 89.6C399.1 90.3 393.2 91 387.4 92.2C381.6 93.4 375.7 94.8 369.9 96.6C364.1 98.3 357.6 100.5 352.4 102.7C347.2 104.9 342.9 107.1 338.5 109.7C334.1 112.3 329.4 115.2 326.2 118.4C323 121.6 320.6 125.8 319.2 128.9C317.8 132 317.2 132.7 317.5 137C317.8 141.3 319.4 148.7 321 154.5C322.6 160.3 325.4 166.2 327.1 172C328.9 177.8 330.7 185 331.5 189.4C332.3 193.8 331.9 195.3 331.8 198.2C331.7 201.1 331.1 204 330.6 206.9C330.1 209.8 329.5 212 328.8 215.7C328.1 219.4 327.1 225.3 326.2 229C325.2 232.7 323.7 234.8 323.1 237.7C322.5 240.6 322.7 244.4 322.7 246.5C322.7 248.6 322.5 248.1 322.9 250C323.3 251.9 324 255.1 325.1 257.9C326.2 260.7 327.6 264.2 329.7 267C331.8 269.8 335.3 272.6 337.6 274.9C339.9 277.2 340.7 278.5 343.3 280.6C345.9 282.7 350.1 285.3 353.5 287.4C356.9 289.5 359.9 291.1 363.7 293.1C367.5 295.1 371.8 297.5 376.2 299.4C380.6 301.3 386 302.7 390 304.3C394 305.9 395.4 307.4 400 309.1C404.6 310.8 411.7 312.6 417.5 314.3C423.3 316.1 428.4 317.9 435 319.6C441.6 321.3 450.7 323.3 457.3 324.7C463.9 326.1 469.4 327.2 474.8 328.2C480.2 329.2 487.1 330.4 489.6 330.8" fill="none" stroke="#2a1c00" stroke-opacity="0.9" stroke-width="0.6"/>
<path d="M489.6 98.3C488.7 98.6 486.9 100.2 484.4 100.1C481.9 99.9 479.3 98 474.8 97.4C470.3 96.8 463.1 96.8 457.3 96.6C451.5 96.4 445.7 95.9 439.9 96.2C434.1 96.5 428.2 97.4 422.4 98.3C416.6 99.2 410.7 100.5 404.9 101.8C399.1 103.1 393.2 104.3 387.4 106.2C381.6 108.1 375.1 110.9 369.9 113.2C364.6 115.5 360 117.6 355.9 120.2C351.8 122.8 348.1 126.1 345.5 128.9C342.9 131.7 340.8 132.7 340.2 137C339.6 141.3 340.5 148.7 342 154.5C343.5 160.3 346.7 166.2 349 172C351.3 177.8 354.5 185 355.9 189.4C357.3 193.8 357.3 195.3 357.3 198.2C357.3 201.1 356.6 204 355.9 206.9C355.2 209.8 354.7 212 353.3 215.7C351.9 219.4 349.2 225.3 347.5 229C345.8 232.7 343.7 234.8 342.8 237.7C341.9 240.6 342 244.4 342 246.5C342 248.6 342.3 248.3 342.7 250C343.1 251.7 343.3 254.4 344.4 256.8C345.4 259.2 346.9 262.1 349 264.7C351.1 267.3 354.6 270.3 356.9 272.7C359.2 275.1 360.2 276.9 362.6 279C365.1 281.1 368.6 283.3 371.6 285.1C374.6 286.9 377.6 288.3 380.7 289.7C383.8 291.1 386.8 292.3 390 293.7C393.2 295.1 395.4 296.6 400 298.2C404.6 299.8 411.7 301.7 417.5 303.4C423.3 305.1 429.2 306.7 435 308.2C440.8 309.7 446.6 311.1 452.4 312.6C458.2 314.1 463.7 315.7 469.9 317C476.1 318.3 486.3 319.9 489.6 320.5" fill="none" stroke="#2a1c00" stroke-opacity="0.9" stroke-width="0.6"/>
<path d="M489.6 106.2C488.7 106.8 486.6 109.7 484.4 109.7C482.2 109.7 479.7 106.6 476.6 106.2C473.6 105.8 470.8 106.7 466.1 107.1C461.4 107.5 454.1 108.2 448.6 108.8C443.1 109.4 437.8 109.7 432.9 110.6C427.9 111.5 424.1 112.9 418.9 114.1C413.6 115.3 406.6 116 401.4 117.6C396.1 119.2 391.8 121.5 387.4 123.7C383 125.9 378.2 128.5 375.2 130.7C372.1 132.9 370.7 134.5 369.1 137C367.5 139.5 366.2 142.8 365.6 145.7C365 148.6 364.4 150.1 365.6 154.5C366.8 158.9 370.3 166.2 372.6 172C374.9 177.8 378.1 185 379.5 189.4C380.9 193.8 381.2 195.3 381.3 198.2C381.4 201.1 381.1 204 380.4 206.9C379.7 209.8 378.8 212 376.9 215.7C375 219.4 371.3 225.3 369 229C366.7 232.7 364.2 234.8 362.9 237.7C361.6 240.6 361.3 244.4 361.2 246.5C361.1 248.6 361.6 248.3 362 250C362.4 251.7 362.7 254.4 363.7 256.8C364.7 259.2 366.1 261.8 368.2 264.7C370.3 267.6 373.8 271.8 376.5 274.3C379.2 276.9 382.1 278.5 384.4 280C386.6 281.5 387.4 282.1 390 283.5C392.6 284.9 395.4 286.4 400 288.1C404.6 289.8 411.7 292 417.5 293.8C423.3 295.6 429.2 297.3 435 299C440.8 300.7 446.6 302.2 452.4 303.8C458.2 305.4 463.7 307.2 469.9 308.7C476.1 310.2 486.3 312.3 489.6 313" fill="none" stroke="#2a1c00" stroke-opacity="0.9" stroke-width="0.6"/>
<path d="M489.6 116.7C488.6 117.1 485.5 119.3 483.6 119.3C481.7 119.3 481.2 116.7 478.3 116.7C475.4 116.7 470.8 118.7 466.1 119.3C461.4 119.9 455.2 119.5 450.3 120.2C445.4 120.9 441 122.7 436.4 123.7C431.8 124.7 427.1 125.1 422.4 126.3C417.7 127.5 412.2 128.9 408.4 130.7C404.6 132.5 402.3 134.5 399.7 137C397.1 139.5 394.2 142.8 392.7 145.7C391.2 148.6 390 150.1 390.9 154.5C391.8 158.9 395.6 166.2 397.9 172C400.2 177.8 403.6 185 404.9 189.4C406.2 193.8 405.9 195.3 405.8 198.2C405.7 201.1 405 204 404 206.9C403 209.8 401.8 212 399.7 215.7C397.6 219.4 394.1 225.3 391.5 229C388.9 232.7 385.7 234.8 383.9 237.7C382.1 240.6 381.1 243.6 380.8 246.5C380.5 249.4 381.3 252.6 382.2 255.2C383.1 257.8 384.4 259.7 386 262C387.6 264.3 389.7 266.6 392 269C394.3 271.4 395.8 274.1 400 276.5C404.2 278.9 411.7 281.6 417.5 283.7C423.3 285.8 429.2 287.3 435 289C440.8 290.7 446.6 292.1 452.4 293.8C458.2 295.5 465.5 297.6 469.9 299C474.3 300.4 475.4 301 478.7 302.1C482 303.2 487.8 305 489.6 305.6" fill="none" stroke="#2a1c00" stroke-opacity="0.9" stroke-width="0.6"/>
<path d="M489.6 126.3C488.3 126.7 485.7 128.2 481.8 128.9C477.9 129.6 471.6 130 466.1 130.7C460.6 131.4 453 132.2 448.6 133.3C444.2 134.4 442.8 135.5 439.9 137C437 138.5 433.4 140.2 431.1 142.2C428.8 144.2 427.5 146.3 425.9 149.2C424.3 152.1 421.5 155.9 421.5 159.7C421.5 163.5 424.3 168.5 425.9 172C427.5 175.5 429.5 177.8 431.1 180.7C432.7 183.6 434 187.1 435.5 189.4C437 191.7 438.8 192.9 439.9 194.7C441 196.4 442 197.9 442 199.9C442 201.9 441.4 204.3 439.9 206.9C438.4 209.5 436.7 212 432.9 215.7C429.1 219.4 421.7 225.3 417 229C412.3 232.7 407.8 234.8 404.9 237.7C402 240.6 400.4 243.6 399.7 246.5C399 249.4 399.8 252.7 400.5 255.2C401.2 257.7 402.2 259.4 404 261.5C405.8 263.6 408.5 265.2 411 267.5C413.5 269.8 415.2 272.8 419.2 275C423.2 277.2 429.5 278.8 435 280.7C440.5 282.6 446.6 284.4 452.4 286.4C458.2 288.4 465.5 290.9 469.9 292.5C474.3 294.1 475.4 294.8 478.7 296C482 297.2 487.8 299.2 489.6 299.9" fill="none" stroke="#2a1c00" stroke-opacity="0.9" stroke-width="0.6"/>
<path d="M489.6 136C487.1 137.3 479 141.8 474.8 144C470.6 146.2 467.5 147.4 464.3 149.2C461.1 150.9 457.4 152.8 455.6 154.5C453.8 156.2 453.2 157.4 453.5 159.7C453.8 162 455.8 165 457.3 168.5C458.8 172 461.3 176.9 462.6 180.7C463.9 184.5 464.6 188.3 465.2 191.2C465.8 194.1 466.2 195.6 466.1 198.2C466 200.8 465.2 204 464.3 206.9C463.4 209.8 462.6 213.1 460.8 215.7C459.1 218.3 457 220.5 453.8 222.7C450.6 224.9 445.6 226.5 441.5 229C437.4 231.5 432.6 234.8 429.4 237.7C426.2 240.6 423.7 243.6 422.4 246.5C421.1 249.4 421.1 252.6 421.5 255.2C421.9 257.8 423.4 259.9 425 262C426.6 264.1 428.6 265.8 431 268C433.4 270.2 435.7 273.1 439.3 275C442.9 276.9 448 277.9 452.4 279.4C456.8 280.8 461.2 281.9 465.6 283.7C470 285.4 474.7 288.4 478.7 289.9C482.7 291.4 487.8 292.4 489.6 292.9" fill="none" stroke="#2a1c00" stroke-opacity="0.9" stroke-width="0.6"/>
<path d="M489.6 147.5C488.6 147.9 485.3 148.9 483.6 150.1C481.9 151.3 480.2 152.6 479.2 154.5C478.2 156.4 477.4 158.9 477.4 161.5C477.4 164.1 478.3 167.3 479.2 170.2C480.1 173.1 481.7 176.1 482.7 179C483.7 181.9 484.5 185.1 485.3 187.7C486.1 190.3 487.1 193 487.5 194.7C487.9 196.4 487.9 196.6 487.5 198C487.1 199.4 486.5 200.8 485.3 203.4C484.1 206.1 481.4 211 480.1 213.9C478.8 216.8 479.2 218.4 477.4 220.9C475.5 223.4 472.4 226.8 469 229C465.6 231.2 460.1 232.4 457.3 234.2C454.5 235.9 454.1 237.4 452.1 239.5C450.1 241.6 446.8 243.9 445.1 246.5C443.4 249.1 442.2 252.6 442 255.2C441.8 257.8 442.6 260 444 262C445.4 264 447.6 264.8 450.3 267C453 269.2 457 272.9 460.3 275C463.6 277.1 466.8 278 469.9 279.4C473 280.8 475.4 281.9 478.7 283.3C482 284.7 487.8 287 489.6 287.7" fill="none" stroke="#2a1c00" stroke-opacity="0.9" stroke-width="0.6"/>
<path d="M296 51C294.2 51.2 288.8 51.4 285.3 52C281.8 52.6 278 53.6 274.8 54.6C271.6 55.6 268.7 56.8 266.1 58.1C263.5 59.4 261.2 60.9 259.1 62.5C257.1 64.1 255.3 65.7 253.8 67.7C252.3 69.7 251.2 72.1 250.3 74.7C249.4 77.3 249 79.7 248.6 83.5C248.2 87.3 247.9 92.2 247.7 97.4C247.5 102.6 247.2 108.3 247.4 114.9C247.6 121.5 248.1 130.4 248.6 137C249.1 143.6 249.9 148.7 250.3 154.5C250.7 160.3 251 166.2 251.2 172C251.4 177.8 251.5 183.6 251.7 189.4C251.9 195.2 252.1 200.3 252.4 206.9C252.7 213.5 253.1 222.4 253.5 229C253.9 235.6 254.3 240.7 254.7 246.5C255.1 252.3 255.5 258.2 255.9 264C256.3 269.8 256.9 275.6 257.3 281.4C257.7 287.2 257.9 292.3 258.2 298.9C258.5 305.5 258.9 299.2 259.1 321C259.3 342.8 259.3 411.5 259.3 429.6" fill="none" stroke="#777" stroke-width="0.9"/>
</g>
<line x1="98.3" y1="50.6" x2="489.6" y2="50.6" stroke="#909090" stroke-width="1.0"/>
<line x1="103.8" y1="429.4" x2="490.6" y2="429.4" stroke="#909090" stroke-width="1.0"/>
<line x1="109.8" y1="50.6" x2="109.8" y2="429.4" stroke="#70748a" stroke-width="0.8"/>
<line x1="489.6" y1="50.6" x2="489.6" y2="429.4" stroke="#80849a" stroke-width="0.8"/>
<line x1="118.4" y1="44.6" x2="118.4" y2="50.6" stroke="#9c9c9c" stroke-width="1.0"/>
<line x1="118.4" y1="429.4" x2="118.4" y2="435.4" stroke="#9c9c9c" stroke-width="1.0"/>
<line x1="138.4" y1="44.6" x2="138.4" y2="50.6" stroke="#9c9c9c" stroke-width="1.0"/>
<line x1="138.4" y1="429.4" x2="138.4" y2="435.4" stroke="#9c9c9c" stroke-width="1.0"/>
<line x1="158.4" y1="44.6" x2="158.4" y2="50.6" stroke="#9c9c9c" stroke-width="1.0"/>
<line x1="158.4" y1="429.4" x2="158.4" y2="435.4" stroke="#9c9c9c" stroke-width="1.0"/>
<line x1="178.4" y1="39.1" x2="178.4" y2="50.6" stroke="#9c9c9c" stroke-width="1.0"/>
<line x1="178.4" y1="429.4" x2="178.4" y2="440.9" stroke="#9c9c9c" stroke-width="1.0"/>
<line x1="198.4" y1="44.6" x2="198.4" y2="50.6" stroke="#9c9c9c" stroke-width="1.0"/>
<line x1="198.4" y1="429.4" x2="198.4" y2="435.4" stroke="#9c9c9c" stroke-width="1.0"/>
<line x1="218.4" y1="44.6" x2="218.4" y2="50.6" stroke="#9c9c9c" stroke-width="1.0"/>
<line x1="218.4" y1="429.4" x2="218.4" y2="435.4" stroke="#9c9c9c" stroke-width="1.0"/>
<line x1="238.4" y1="44.6" x2="238.4" y2="50.6" stroke="#9c9c9c" stroke-width="1.0"/>
<line x1="238.4" y1="429.4" x2="238.4" y2="435.4" stroke="#9c9c9c" stroke-width="1.0"/>
<line x1="258.4" y1="39.1" x2="258.4" y2="50.6" stroke="#9c9c9c" stroke-width="1.0"/>
<line x1="258.4" y1="429.4" x2="258.4" y2="440.9" stroke="#9c9c9c" stroke-width="1.0"/>
<line x1="278.4" y1="44.6" x2="278.4" y2="50.6" stroke="#9c9c9c" stroke-width="1.0"/>
<line x1="278.4" y1="429.4" x2="278.4" y2="435.4" stroke="#9c9c9c" stroke-width="1.0"/>
<line x1="298.4" y1="44.6" x2="298.4" y2="50.6" stroke="#9c9c9c" stroke-width="1.0"/>
<line x1="298.4" y1="429.4" x2="298.4" y2="435.4" stroke="#9c9c9c" stroke-width="1.0"/>
<line x1="318.4" y1="44.6" x2="318.4" y2="50.6" stroke="#9c9c9c" stroke-width="1.0"/>
<line x1="318.4" y1="429.4" x2="318.4" y2="435.4" stroke="#9c9c9c" stroke-width="1.0"/>
<line x1="338.4" y1="39.1" x2="338.4" y2="50.6" stroke="#9c9c9c" stroke-width="1.0"/>
<line x1="338.4" y1="429.4" x2="338.4" y2="440.9" stroke="#9c9c9c" stroke-width="1.0"/>
<line x1="358.4" y1="44.6" x2="358.4" y2="50.6" stroke="#9c9c9c" stroke-width="1.0"/>
<line x1="358.4" y1="429.4" x2="358.4" y2="435.4" stroke="#9c9c9c" stroke-width="1.0"/>
<line x1="378.4" y1="44.6" x2="378.4" y2="50.6" stroke="#9c9c9c" stroke-width="1.0"/>
<line x1="378.4" y1="429.4" x2="378.4" y2="435.4" stroke="#9c9c9c" stroke-width="1.0"/>
<line x1="398.4" y1="44.6" x2="398.4" y2="50.6" stroke="#9c9c9c" stroke-width="1.0"/>
<line x1="398.4" y1="429.4" x2="398.4" y2="435.4" stroke="#9c9c9c" stroke-width="1.0"/>
<line x1="418.4" y1="39.1" x2="418.4" y2="50.6" stroke="#9c9c9c" stroke-width="1.0"/>
<line x1="418.4" y1="429.4" x2="418.4" y2="440.9" stroke="#9c9c9c" stroke-width="1.0"/>
<line x1="438.4" y1="44.6" x2="438.4" y2="50.6" stroke="#9c9c9c" stroke-width="1.0"/>
<line x1="438.4" y1="429.4" x2="438.4" y2="435.4" stroke="#9c9c9c" stroke-width="1.0"/>
<line x1="458.4" y1="44.6" x2="458.4" y2="50.6" stroke="#9c9c9c" stroke-width="1.0"/>
<line x1="458.4" y1="429.4" x2="458.4" y2="435.4" stroke="#9c9c9c" stroke-width="1.0"/>
<line x1="478.4" y1="44.6" x2="478.4" y2="50.6" stroke="#9c9c9c" stroke-width="1.0"/>
<line x1="478.4" y1="429.4" x2="478.4" y2="435.4" stroke="#9c9c9c" stroke-width="1.0"/>
<line x1="103.8" y1="429.7" x2="109.8" y2="429.7" stroke="#9c9c9c" stroke-width="1.0"/>
<line x1="489.6" y1="429.7" x2="494.9" y2="429.7" stroke="#b0b0b0" stroke-width="1.0"/>
<line x1="103.8" y1="411.7" x2="109.8" y2="411.7" stroke="#9c9c9c" stroke-width="1.0"/>
<line x1="489.6" y1="411.7" x2="494.9" y2="411.7" stroke="#b0b0b0" stroke-width="1.0"/>
<line x1="103.8" y1="398.9" x2="109.8" y2="398.9" stroke="#9c9c9c" stroke-width="1.0"/>
<line x1="489.6" y1="398.9" x2="494.9" y2="398.9" stroke="#b0b0b0" stroke-width="1.0"/>
<line x1="103.8" y1="389" x2="109.8" y2="389" stroke="#9c9c9c" stroke-width="1.0"/>
<line x1="489.6" y1="389" x2="494.9" y2="389" stroke="#b0b0b0" stroke-width="1.0"/>
<line x1="103.8" y1="380.9" x2="109.8" y2="380.9" stroke="#9c9c9c" stroke-width="1.0"/>
<line x1="489.6" y1="380.9" x2="494.9" y2="380.9" stroke="#b0b0b0" stroke-width="1.0"/>
<line x1="103.8" y1="374" x2="109.8" y2="374" stroke="#9c9c9c" stroke-width="1.0"/>
<line x1="489.6" y1="374" x2="494.9" y2="374" stroke="#b0b0b0" stroke-width="1.0"/>
<line x1="103.8" y1="368.1" x2="109.8" y2="368.1" stroke="#9c9c9c" stroke-width="1.0"/>
<line x1="489.6" y1="368.1" x2="494.9" y2="368.1" stroke="#b0b0b0" stroke-width="1.0"/>
<line x1="103.8" y1="362.8" x2="109.8" y2="362.8" stroke="#9c9c9c" stroke-width="1.0"/>
<line x1="489.6" y1="362.8" x2="494.9" y2="362.8" stroke="#b0b0b0" stroke-width="1.0"/>
<line x1="98.3" y1="358.1" x2="109.8" y2="358.1" stroke="#9c9c9c" stroke-width="1.0"/>
<line x1="489.6" y1="358.1" x2="494.9" y2="358.1" stroke="#b0b0b0" stroke-width="1.0"/>
<line x1="103.8" y1="327.3" x2="109.8" y2="327.3" stroke="#9c9c9c" stroke-width="1.0"/>
<line x1="489.6" y1="327.3" x2="494.9" y2="327.3" stroke="#b0b0b0" stroke-width="1.0"/>
<line x1="103.8" y1="309.3" x2="109.8" y2="309.3" stroke="#9c9c9c" stroke-width="1.0"/>
<line x1="489.6" y1="309.3" x2="494.9" y2="309.3" stroke="#b0b0b0" stroke-width="1.0"/>
<line x1="103.8" y1="296.5" x2="109.8" y2="296.5" stroke="#9c9c9c" stroke-width="1.0"/>
<line x1="489.6" y1="296.5" x2="494.9" y2="296.5" stroke="#b0b0b0" stroke-width="1.0"/>
<line x1="103.8" y1="286.6" x2="109.8" y2="286.6" stroke="#9c9c9c" stroke-width="1.0"/>
<line x1="489.6" y1="286.6" x2="494.9" y2="286.6" stroke="#b0b0b0" stroke-width="1.0"/>
<line x1="103.8" y1="278.5" x2="109.8" y2="278.5" stroke="#9c9c9c" stroke-width="1.0"/>
<line x1="489.6" y1="278.5" x2="494.9" y2="278.5" stroke="#b0b0b0" stroke-width="1.0"/>
<line x1="103.8" y1="271.7" x2="109.8" y2="271.7" stroke="#9c9c9c" stroke-width="1.0"/>
<line x1="489.6" y1="271.7" x2="494.9" y2="271.7" stroke="#b0b0b0" stroke-width="1.0"/>
<line x1="103.8" y1="265.7" x2="109.8" y2="265.7" stroke="#9c9c9c" stroke-width="1.0"/>
<line x1="489.6" y1="265.7" x2="494.9" y2="265.7" stroke="#b0b0b0" stroke-width="1.0"/>
<line x1="103.8" y1="260.5" x2="109.8" y2="260.5" stroke="#9c9c9c" stroke-width="1.0"/>
<line x1="489.6" y1="260.5" x2="494.9" y2="260.5" stroke="#b0b0b0" stroke-width="1.0"/>
<line x1="98.3" y1="255.8" x2="109.8" y2="255.8" stroke="#9c9c9c" stroke-width="1.0"/>
<line x1="489.6" y1="255.8" x2="494.9" y2="255.8" stroke="#b0b0b0" stroke-width="1.0"/>
<line x1="103.8" y1="225" x2="109.8" y2="225" stroke="#9c9c9c" stroke-width="1.0"/>
<line x1="489.6" y1="225" x2="494.9" y2="225" stroke="#b0b0b0" stroke-width="1.0"/>
<line x1="103.8" y1="207" x2="109.8" y2="207" stroke="#9c9c9c" stroke-width="1.0"/>
<line x1="489.6" y1="207" x2="494.9" y2="207" stroke="#b0b0b0" stroke-width="1.0"/>
<line x1="103.8" y1="194.2" x2="109.8" y2="194.2" stroke="#9c9c9c" stroke-width="1.0"/>
<line x1="489.6" y1="194.2" x2="494.9" y2="194.2" stroke="#b0b0b0" stroke-width="1.0"/>
<line x1="103.8" y1="184.3" x2="109.8" y2="184.3" stroke="#9c9c9c" stroke-width="1.0"/>
<line x1="489.6" y1="184.3" x2="494.9" y2="184.3" stroke="#b0b0b0" stroke-width="1.0"/>
<line x1="103.8" y1="176.2" x2="109.8" y2="176.2" stroke="#9c9c9c" stroke-width="1.0"/>
<line x1="489.6" y1="176.2" x2="494.9" y2="176.2" stroke="#b0b0b0" stroke-width="1.0"/>
<line x1="103.8" y1="169.3" x2="109.8" y2="169.3" stroke="#9c9c9c" stroke-width="1.0"/>
<line x1="489.6" y1="169.3" x2="494.9" y2="169.3" stroke="#b0b0b0" stroke-width="1.0"/>
<line x1="103.8" y1="163.4" x2="109.8" y2="163.4" stroke="#9c9c9c" stroke-width="1.0"/>
<line x1="489.6" y1="163.4" x2="494.9" y2="163.4" stroke="#b0b0b0" stroke-width="1.0"/>
<line x1="103.8" y1="158.1" x2="109.8" y2="158.1" stroke="#9c9c9c" stroke-width="1.0"/>
<line x1="489.6" y1="158.1" x2="494.9" y2="158.1" stroke="#b0b0b0" stroke-width="1.0"/>
<line x1="98.3" y1="153.4" x2="109.8" y2="153.4" stroke="#9c9c9c" stroke-width="1.0"/>
<line x1="489.6" y1="153.4" x2="494.9" y2="153.4" stroke="#b0b0b0" stroke-width="1.0"/>
<line x1="103.8" y1="122.6" x2="109.8" y2="122.6" stroke="#9c9c9c" stroke-width="1.0"/>
<line x1="489.6" y1="122.6" x2="494.9" y2="122.6" stroke="#b0b0b0" stroke-width="1.0"/>
<line x1="103.8" y1="104.6" x2="109.8" y2="104.6" stroke="#9c9c9c" stroke-width="1.0"/>
<line x1="489.6" y1="104.6" x2="494.9" y2="104.6" stroke="#b0b0b0" stroke-width="1.0"/>
<line x1="103.8" y1="91.8" x2="109.8" y2="91.8" stroke="#9c9c9c" stroke-width="1.0"/>
<line x1="489.6" y1="91.8" x2="494.9" y2="91.8" stroke="#b0b0b0" stroke-width="1.0"/>
<line x1="103.8" y1="81.9" x2="109.8" y2="81.9" stroke="#9c9c9c" stroke-width="1.0"/>
<line x1="489.6" y1="81.9" x2="494.9" y2="81.9" stroke="#b0b0b0" stroke-width="1.0"/>
<line x1="103.8" y1="73.8" x2="109.8" y2="73.8" stroke="#9c9c9c" stroke-width="1.0"/>
<line x1="489.6" y1="73.8" x2="494.9" y2="73.8" stroke="#b0b0b0" stroke-width="1.0"/>
<line x1="103.8" y1="67" x2="109.8" y2="67" stroke="#9c9c9c" stroke-width="1.0"/>
<line x1="489.6" y1="67" x2="494.9" y2="67" stroke="#b0b0b0" stroke-width="1.0"/>
<line x1="103.8" y1="61" x2="109.8" y2="61" stroke="#9c9c9c" stroke-width="1.0"/>
<line x1="489.6" y1="61" x2="494.9" y2="61" stroke="#b0b0b0" stroke-width="1.0"/>
<line x1="103.8" y1="55.8" x2="109.8" y2="55.8" stroke="#9c9c9c" stroke-width="1.0"/>
<line x1="489.6" y1="55.8" x2="494.9" y2="55.8" stroke="#b0b0b0" stroke-width="1.0"/>
<line x1="489.6" y1="51.1" x2="494.9" y2="51.1" stroke="#b0b0b0" stroke-width="1.0"/>
<rect x="495.4" y="50.2" width="11.6" height="379.2" fill="url(#cb)"/>
<g font-family="'Liberation Serif', 'Times New Roman', serif" fill="#000">
<text x="518" y="58" font-size="25.5" text-anchor="start" letter-spacing="-0.9">2.5</text>
<line x1="504.5" y1="50.2" x2="507" y2="50.2" stroke="#555" stroke-width="0.8"/>
<text x="518" y="95.9" font-size="25.5" text-anchor="start" letter-spacing="-0.9">2.0</text>
<line x1="504.5" y1="88.1" x2="507" y2="88.1" stroke="#555" stroke-width="0.8"/>
<text x="518" y="133.8" font-size="25.5" text-anchor="start" letter-spacing="-0.9">1.5</text>
<line x1="504.5" y1="126" x2="507" y2="126" stroke="#555" stroke-width="0.8"/>
<text x="518" y="171.7" font-size="25.5" text-anchor="start" letter-spacing="-0.9">1.0</text>
<line x1="504.5" y1="164" x2="507" y2="164" stroke="#555" stroke-width="0.8"/>
<text x="518" y="209.6" font-size="25.5" text-anchor="start" letter-spacing="-0.9">0.5</text>
<line x1="504.5" y1="201.9" x2="507" y2="201.9" stroke="#555" stroke-width="0.8"/>
<text x="518" y="247.5" font-size="25.5" text-anchor="start" letter-spacing="-0.9">0</text>
<line x1="504.5" y1="239.8" x2="507" y2="239.8" stroke="#555" stroke-width="0.8"/>
<text transform="translate(517.8 285.4) scale(1.380 1)" font-size="25.5">−</text>
<text x="537.4" y="285.4" font-size="25.5" text-anchor="start" letter-spacing="-0.9">0.5</text>
<line x1="504.5" y1="277.7" x2="507" y2="277.7" stroke="#555" stroke-width="0.8"/>
<text transform="translate(517.8 323.3) scale(1.380 1)" font-size="25.5">−</text>
<text x="537.4" y="323.3" font-size="25.5" text-anchor="start" letter-spacing="-0.9">1.0</text>
<line x1="504.5" y1="315.6" x2="507" y2="315.6" stroke="#555" stroke-width="0.8"/>
<text transform="translate(517.8 361.2) scale(1.380 1)" font-size="25.5">−</text>
<text x="537.4" y="361.2" font-size="25.5" text-anchor="start" letter-spacing="-0.9">1.5</text>
<line x1="504.5" y1="353.6" x2="507" y2="353.6" stroke="#555" stroke-width="0.8"/>
<text transform="translate(517.8 399.1) scale(1.380 1)" font-size="25.5">−</text>
<text x="537.4" y="399.1" font-size="25.5" text-anchor="start" letter-spacing="-0.9">2.0</text>
<line x1="504.5" y1="391.5" x2="507" y2="391.5" stroke="#555" stroke-width="0.8"/>
<text transform="translate(517.8 437) scale(1.380 1)" font-size="25.5">−</text>
<text x="537.4" y="437" font-size="25.5" text-anchor="start" letter-spacing="-0.9">2.5</text>
<line x1="504.5" y1="429.4" x2="507" y2="429.4" stroke="#555" stroke-width="0.8"/>
<text x="178.9" y="469.8" font-size="25.5" text-anchor="middle" letter-spacing="-0.9">0.8</text>
<text x="258.9" y="469.8" font-size="25.5" text-anchor="middle" letter-spacing="-0.9">1.0</text>
<text x="338.9" y="469.8" font-size="25.5" text-anchor="middle" letter-spacing="-0.9">1.2</text>
<text x="418.9" y="469.8" font-size="25.5" text-anchor="middle" letter-spacing="-0.9">1.4</text>
<text x="55.8" y="366.9" font-size="25.5" letter-spacing="-1">10</text>
<text x="81.2" y="356.8" font-size="15.5">0</text>
<text x="55.8" y="264.6" font-size="25.5" letter-spacing="-1">10</text>
<text x="81.2" y="254.5" font-size="15.5">1</text>
<text x="55.8" y="162.2" font-size="25.5" letter-spacing="-1">10</text>
<text x="81.2" y="152.1" font-size="15.5">2</text>
<text x="55.8" y="59.9" font-size="25.5" letter-spacing="-1">10</text>
<text x="81.2" y="49.8" font-size="15.5">3</text>
<text x="2.4" y="24.4" font-size="29">(<tspan font-style="italic">a</tspan>)</text>
<text x="614.3" y="24.4" font-size="29">(<tspan font-style="italic">b</tspan>)</text>
<text transform="translate(13.2 227.4) scale(0.800 1)" font-size="29" font-style="italic">y</text>
<text x="24.5" y="221.2" font-size="28">+</text>
<text transform="translate(205.9 516.3) scale(0.950 1)" font-size="30.5" font-style="italic">C</text>
<text transform="translate(226.4 516.1) skewX(-10)" font-size="30.5" font-style="italic">f</text>
<text transform="translate(240.6 520.6) scale(1.070 1)" font-size="19.5" font-style="italic">LS</text>
<text x="262.2" y="522.2" font-size="41">/</text>
<text transform="translate(275.7 516.3) scale(0.950 1)" font-size="30.5" font-style="italic">C</text>
<text transform="translate(296.2 516.1) skewX(-10)" font-size="30.5" font-style="italic">f</text>
<text x="319.2" y="521.2" font-size="40">+</text>
<text x="350.3" y="516.3" font-size="30">1</text>
<line x1="278.7" y1="491.1" x2="309.7" y2="491.1" stroke="#000" stroke-width="1.3"/>
</g>
<line x1="706.2" y1="17.9" x2="1141.5" y2="17.9" stroke="#8e8e8e" stroke-width="1.0"/>
<line x1="706.2" y1="428.4" x2="1129" y2="428.4" stroke="#8e8e8e" stroke-width="1.0"/>
<line x1="718.7" y1="17.9" x2="718.7" y2="428.4" stroke="#8e8e8e" stroke-width="1.0"/>
<line x1="1129" y1="17.9" x2="1129" y2="428.4" stroke="#8e8e8e" stroke-width="1.0"/>
<line x1="718.3" y1="11.9" x2="718.3" y2="17.9" stroke="#9c9c9c" stroke-width="1.0"/>
<line x1="718.3" y1="428.4" x2="718.3" y2="434.4" stroke="#9c9c9c" stroke-width="1.0"/>
<line x1="737.9" y1="11.9" x2="737.9" y2="17.9" stroke="#9c9c9c" stroke-width="1.0"/>
<line x1="737.9" y1="428.4" x2="737.9" y2="434.4" stroke="#9c9c9c" stroke-width="1.0"/>
<line x1="751.7" y1="11.9" x2="751.7" y2="17.9" stroke="#9c9c9c" stroke-width="1.0"/>
<line x1="751.7" y1="428.4" x2="751.7" y2="434.4" stroke="#9c9c9c" stroke-width="1.0"/>
<line x1="762.5" y1="11.9" x2="762.5" y2="17.9" stroke="#9c9c9c" stroke-width="1.0"/>
<line x1="762.5" y1="428.4" x2="762.5" y2="434.4" stroke="#9c9c9c" stroke-width="1.0"/>
<line x1="771.3" y1="11.9" x2="771.3" y2="17.9" stroke="#9c9c9c" stroke-width="1.0"/>
<line x1="771.3" y1="428.4" x2="771.3" y2="434.4" stroke="#9c9c9c" stroke-width="1.0"/>
<line x1="778.7" y1="11.9" x2="778.7" y2="17.9" stroke="#9c9c9c" stroke-width="1.0"/>
<line x1="778.7" y1="428.4" x2="778.7" y2="434.4" stroke="#9c9c9c" stroke-width="1.0"/>
<line x1="785.1" y1="11.9" x2="785.1" y2="17.9" stroke="#9c9c9c" stroke-width="1.0"/>
<line x1="785.1" y1="428.4" x2="785.1" y2="434.4" stroke="#9c9c9c" stroke-width="1.0"/>
<line x1="790.8" y1="11.9" x2="790.8" y2="17.9" stroke="#9c9c9c" stroke-width="1.0"/>
<line x1="790.8" y1="428.4" x2="790.8" y2="434.4" stroke="#9c9c9c" stroke-width="1.0"/>
<line x1="795.9" y1="5.9" x2="795.9" y2="17.9" stroke="#9c9c9c" stroke-width="1.0"/>
<line x1="795.9" y1="428.4" x2="795.9" y2="440.4" stroke="#9c9c9c" stroke-width="1.0"/>
<line x1="829.3" y1="11.9" x2="829.3" y2="17.9" stroke="#9c9c9c" stroke-width="1.0"/>
<line x1="829.3" y1="428.4" x2="829.3" y2="434.4" stroke="#9c9c9c" stroke-width="1.0"/>
<line x1="848.9" y1="11.9" x2="848.9" y2="17.9" stroke="#9c9c9c" stroke-width="1.0"/>
<line x1="848.9" y1="428.4" x2="848.9" y2="434.4" stroke="#9c9c9c" stroke-width="1.0"/>
<line x1="862.7" y1="11.9" x2="862.7" y2="17.9" stroke="#9c9c9c" stroke-width="1.0"/>
<line x1="862.7" y1="428.4" x2="862.7" y2="434.4" stroke="#9c9c9c" stroke-width="1.0"/>
<line x1="873.5" y1="11.9" x2="873.5" y2="17.9" stroke="#9c9c9c" stroke-width="1.0"/>
<line x1="873.5" y1="428.4" x2="873.5" y2="434.4" stroke="#9c9c9c" stroke-width="1.0"/>
<line x1="882.3" y1="11.9" x2="882.3" y2="17.9" stroke="#9c9c9c" stroke-width="1.0"/>
<line x1="882.3" y1="428.4" x2="882.3" y2="434.4" stroke="#9c9c9c" stroke-width="1.0"/>
<line x1="889.7" y1="11.9" x2="889.7" y2="17.9" stroke="#9c9c9c" stroke-width="1.0"/>
<line x1="889.7" y1="428.4" x2="889.7" y2="434.4" stroke="#9c9c9c" stroke-width="1.0"/>
<line x1="896.1" y1="11.9" x2="896.1" y2="17.9" stroke="#9c9c9c" stroke-width="1.0"/>
<line x1="896.1" y1="428.4" x2="896.1" y2="434.4" stroke="#9c9c9c" stroke-width="1.0"/>
<line x1="901.8" y1="11.9" x2="901.8" y2="17.9" stroke="#9c9c9c" stroke-width="1.0"/>
<line x1="901.8" y1="428.4" x2="901.8" y2="434.4" stroke="#9c9c9c" stroke-width="1.0"/>
<line x1="906.9" y1="11.9" x2="906.9" y2="17.9" stroke="#9c9c9c" stroke-width="1.0"/>
<line x1="906.9" y1="428.4" x2="906.9" y2="434.4" stroke="#9c9c9c" stroke-width="1.0"/>
<line x1="940.3" y1="11.9" x2="940.3" y2="17.9" stroke="#9c9c9c" stroke-width="1.0"/>
<line x1="940.3" y1="428.4" x2="940.3" y2="434.4" stroke="#9c9c9c" stroke-width="1.0"/>
<line x1="959.9" y1="11.9" x2="959.9" y2="17.9" stroke="#9c9c9c" stroke-width="1.0"/>
<line x1="959.9" y1="428.4" x2="959.9" y2="434.4" stroke="#9c9c9c" stroke-width="1.0"/>
<line x1="973.7" y1="11.9" x2="973.7" y2="17.9" stroke="#9c9c9c" stroke-width="1.0"/>
<line x1="973.7" y1="428.4" x2="973.7" y2="434.4" stroke="#9c9c9c" stroke-width="1.0"/>
<line x1="984.5" y1="11.9" x2="984.5" y2="17.9" stroke="#9c9c9c" stroke-width="1.0"/>
<line x1="984.5" y1="428.4" x2="984.5" y2="434.4" stroke="#9c9c9c" stroke-width="1.0"/>
<line x1="993.3" y1="11.9" x2="993.3" y2="17.9" stroke="#9c9c9c" stroke-width="1.0"/>
<line x1="993.3" y1="428.4" x2="993.3" y2="434.4" stroke="#9c9c9c" stroke-width="1.0"/>
<line x1="1000.7" y1="11.9" x2="1000.7" y2="17.9" stroke="#9c9c9c" stroke-width="1.0"/>
<line x1="1000.7" y1="428.4" x2="1000.7" y2="434.4" stroke="#9c9c9c" stroke-width="1.0"/>
<line x1="1007.1" y1="11.9" x2="1007.1" y2="17.9" stroke="#9c9c9c" stroke-width="1.0"/>
<line x1="1007.1" y1="428.4" x2="1007.1" y2="434.4" stroke="#9c9c9c" stroke-width="1.0"/>
<line x1="1012.8" y1="11.9" x2="1012.8" y2="17.9" stroke="#9c9c9c" stroke-width="1.0"/>
<line x1="1012.8" y1="428.4" x2="1012.8" y2="434.4" stroke="#9c9c9c" stroke-width="1.0"/>
<line x1="1017.9" y1="5.9" x2="1017.9" y2="17.9" stroke="#9c9c9c" stroke-width="1.0"/>
<line x1="1017.9" y1="428.4" x2="1017.9" y2="440.4" stroke="#9c9c9c" stroke-width="1.0"/>
<line x1="1051.3" y1="11.9" x2="1051.3" y2="17.9" stroke="#9c9c9c" stroke-width="1.0"/>
<line x1="1051.3" y1="428.4" x2="1051.3" y2="434.4" stroke="#9c9c9c" stroke-width="1.0"/>
<line x1="1070.9" y1="11.9" x2="1070.9" y2="17.9" stroke="#9c9c9c" stroke-width="1.0"/>
<line x1="1070.9" y1="428.4" x2="1070.9" y2="434.4" stroke="#9c9c9c" stroke-width="1.0"/>
<line x1="1084.7" y1="11.9" x2="1084.7" y2="17.9" stroke="#9c9c9c" stroke-width="1.0"/>
<line x1="1084.7" y1="428.4" x2="1084.7" y2="434.4" stroke="#9c9c9c" stroke-width="1.0"/>
<line x1="1095.5" y1="11.9" x2="1095.5" y2="17.9" stroke="#9c9c9c" stroke-width="1.0"/>
<line x1="1095.5" y1="428.4" x2="1095.5" y2="434.4" stroke="#9c9c9c" stroke-width="1.0"/>
<line x1="1104.3" y1="11.9" x2="1104.3" y2="17.9" stroke="#9c9c9c" stroke-width="1.0"/>
<line x1="1104.3" y1="428.4" x2="1104.3" y2="434.4" stroke="#9c9c9c" stroke-width="1.0"/>
<line x1="1111.7" y1="11.9" x2="1111.7" y2="17.9" stroke="#9c9c9c" stroke-width="1.0"/>
<line x1="1111.7" y1="428.4" x2="1111.7" y2="434.4" stroke="#9c9c9c" stroke-width="1.0"/>
<line x1="1118.1" y1="11.9" x2="1118.1" y2="17.9" stroke="#9c9c9c" stroke-width="1.0"/>
<line x1="1118.1" y1="428.4" x2="1118.1" y2="434.4" stroke="#9c9c9c" stroke-width="1.0"/>
<line x1="1123.8" y1="11.9" x2="1123.8" y2="17.9" stroke="#9c9c9c" stroke-width="1.0"/>
<line x1="1123.8" y1="428.4" x2="1123.8" y2="434.4" stroke="#9c9c9c" stroke-width="1.0"/>
<line x1="1128.9" y1="11.9" x2="1128.9" y2="17.9" stroke="#9c9c9c" stroke-width="1.0"/>
<line x1="1128.9" y1="428.4" x2="1128.9" y2="434.4" stroke="#9c9c9c" stroke-width="1.0"/>
<line x1="712.4" y1="412" x2="718.7" y2="412" stroke="#9c9c9c" stroke-width="1.0"/>
<line x1="1129" y1="412" x2="1135.3" y2="412" stroke="#9c9c9c" stroke-width="1.0"/>
<line x1="712.4" y1="395.6" x2="718.7" y2="395.6" stroke="#9c9c9c" stroke-width="1.0"/>
<line x1="1129" y1="395.6" x2="1135.3" y2="395.6" stroke="#9c9c9c" stroke-width="1.0"/>
<line x1="712.4" y1="379.1" x2="718.7" y2="379.1" stroke="#9c9c9c" stroke-width="1.0"/>
<line x1="1129" y1="379.1" x2="1135.3" y2="379.1" stroke="#9c9c9c" stroke-width="1.0"/>
<line x1="712.4" y1="362.7" x2="718.7" y2="362.7" stroke="#9c9c9c" stroke-width="1.0"/>
<line x1="1129" y1="362.7" x2="1135.3" y2="362.7" stroke="#9c9c9c" stroke-width="1.0"/>
<line x1="706.2" y1="346.3" x2="718.7" y2="346.3" stroke="#9c9c9c" stroke-width="1.0"/>
<line x1="1129" y1="346.3" x2="1141.5" y2="346.3" stroke="#9c9c9c" stroke-width="1.0"/>
<line x1="712.4" y1="329.9" x2="718.7" y2="329.9" stroke="#9c9c9c" stroke-width="1.0"/>
<line x1="1129" y1="329.9" x2="1135.3" y2="329.9" stroke="#9c9c9c" stroke-width="1.0"/>
<line x1="712.4" y1="313.5" x2="718.7" y2="313.5" stroke="#9c9c9c" stroke-width="1.0"/>
<line x1="1129" y1="313.5" x2="1135.3" y2="313.5" stroke="#9c9c9c" stroke-width="1.0"/>
<line x1="712.4" y1="297" x2="718.7" y2="297" stroke="#9c9c9c" stroke-width="1.0"/>
<line x1="1129" y1="297" x2="1135.3" y2="297" stroke="#9c9c9c" stroke-width="1.0"/>
<line x1="712.4" y1="280.6" x2="718.7" y2="280.6" stroke="#9c9c9c" stroke-width="1.0"/>
<line x1="1129" y1="280.6" x2="1135.3" y2="280.6" stroke="#9c9c9c" stroke-width="1.0"/>
<line x1="706.2" y1="264.2" x2="718.7" y2="264.2" stroke="#9c9c9c" stroke-width="1.0"/>
<line x1="1129" y1="264.2" x2="1141.5" y2="264.2" stroke="#9c9c9c" stroke-width="1.0"/>
<line x1="712.4" y1="247.8" x2="718.7" y2="247.8" stroke="#9c9c9c" stroke-width="1.0"/>
<line x1="1129" y1="247.8" x2="1135.3" y2="247.8" stroke="#9c9c9c" stroke-width="1.0"/>
<line x1="712.4" y1="231.4" x2="718.7" y2="231.4" stroke="#9c9c9c" stroke-width="1.0"/>
<line x1="1129" y1="231.4" x2="1135.3" y2="231.4" stroke="#9c9c9c" stroke-width="1.0"/>
<line x1="712.4" y1="214.9" x2="718.7" y2="214.9" stroke="#9c9c9c" stroke-width="1.0"/>
<line x1="1129" y1="214.9" x2="1135.3" y2="214.9" stroke="#9c9c9c" stroke-width="1.0"/>
<line x1="712.4" y1="198.5" x2="718.7" y2="198.5" stroke="#9c9c9c" stroke-width="1.0"/>
<line x1="1129" y1="198.5" x2="1135.3" y2="198.5" stroke="#9c9c9c" stroke-width="1.0"/>
<line x1="706.2" y1="182.1" x2="718.7" y2="182.1" stroke="#9c9c9c" stroke-width="1.0"/>
<line x1="1129" y1="182.1" x2="1141.5" y2="182.1" stroke="#9c9c9c" stroke-width="1.0"/>
<line x1="712.4" y1="165.7" x2="718.7" y2="165.7" stroke="#9c9c9c" stroke-width="1.0"/>
<line x1="1129" y1="165.7" x2="1135.3" y2="165.7" stroke="#9c9c9c" stroke-width="1.0"/>
<line x1="712.4" y1="149.3" x2="718.7" y2="149.3" stroke="#9c9c9c" stroke-width="1.0"/>
<line x1="1129" y1="149.3" x2="1135.3" y2="149.3" stroke="#9c9c9c" stroke-width="1.0"/>
<line x1="712.4" y1="132.8" x2="718.7" y2="132.8" stroke="#9c9c9c" stroke-width="1.0"/>
<line x1="1129" y1="132.8" x2="1135.3" y2="132.8" stroke="#9c9c9c" stroke-width="1.0"/>
<line x1="712.4" y1="116.4" x2="718.7" y2="116.4" stroke="#9c9c9c" stroke-width="1.0"/>
<line x1="1129" y1="116.4" x2="1135.3" y2="116.4" stroke="#9c9c9c" stroke-width="1.0"/>
<line x1="706.2" y1="100" x2="718.7" y2="100" stroke="#9c9c9c" stroke-width="1.0"/>
<line x1="1129" y1="100" x2="1141.5" y2="100" stroke="#9c9c9c" stroke-width="1.0"/>
<line x1="712.4" y1="83.6" x2="718.7" y2="83.6" stroke="#9c9c9c" stroke-width="1.0"/>
<line x1="1129" y1="83.6" x2="1135.3" y2="83.6" stroke="#9c9c9c" stroke-width="1.0"/>
<line x1="712.4" y1="67.2" x2="718.7" y2="67.2" stroke="#9c9c9c" stroke-width="1.0"/>
<line x1="1129" y1="67.2" x2="1135.3" y2="67.2" stroke="#9c9c9c" stroke-width="1.0"/>
<line x1="712.4" y1="50.7" x2="718.7" y2="50.7" stroke="#9c9c9c" stroke-width="1.0"/>
<line x1="1129" y1="50.7" x2="1135.3" y2="50.7" stroke="#9c9c9c" stroke-width="1.0"/>
<line x1="712.4" y1="34.3" x2="718.7" y2="34.3" stroke="#9c9c9c" stroke-width="1.0"/>
<line x1="1129" y1="34.3" x2="1135.3" y2="34.3" stroke="#9c9c9c" stroke-width="1.0"/>
<g font-family="'Liberation Serif', 'Times New Roman', serif" fill="#000">
<text x="694.6" y="435.2" font-size="25.5" text-anchor="end" letter-spacing="-0.9">0</text>
<text x="694.6" y="353.1" font-size="25.5" text-anchor="end" letter-spacing="-0.9">5</text>
<text x="694.6" y="271" font-size="25.5" text-anchor="end" letter-spacing="-0.9">10</text>
<text x="694.6" y="188.9" font-size="25.5" text-anchor="end" letter-spacing="-0.9">15</text>
<text x="694.6" y="106.8" font-size="25.5" text-anchor="end" letter-spacing="-0.9">20</text>
<text x="694.6" y="24.7" font-size="25.5" text-anchor="end" letter-spacing="-0.9">25</text>
<text x="780.3" y="469.6" font-size="25.5" letter-spacing="-1">10</text>
<text x="804.3" y="460.4" font-size="15.5">0</text>
<text x="1002.3" y="469.6" font-size="25.5" letter-spacing="-1">10</text>
<text x="1026.3" y="460.4" font-size="15.5">2</text>
<text transform="translate(912.7 511.4) scale(0.800 1)" font-size="29" font-style="italic">y</text>
<text x="923.7" y="505.7" font-size="28">+</text>
<g transform="translate(652 265) rotate(-90)">
<text transform="translate(-2.7 0) scale(0.900 1)" font-size="31.5" font-style="italic">U</text>
<text x="21.5" y="-16" font-size="27">+</text>
<text x="37.7" y="-1" font-size="29">|</text>
<text transform="translate(45.9 4.5) scale(0.850 1)" font-size="21.5" font-style="italic">C</text>
<text transform="translate(58.8 4.2) skewX(-10)" font-size="21.5" font-style="italic">f</text>
<text x="71" y="7.4" font-size="14.5" font-style="italic">LS</text>
<line x1="2.4" y1="-25.5" x2="18.9" y2="-25.5" stroke="#000" stroke-width="1.3"/>
</g>
</g>
<defs><clipPath id="cpb"><rect x="718.7" y="17.9" width="411.5" height="410.5"/></clipPath></defs>
<g clip-path="url(#cpb)" fill="none" stroke-linejoin="round">
<path d="M801.4 408.9 L803.3 408.1 L805.3 407.3 L807.3 406.5 L809.2 405.7 L811.2 404.8 L813.2 403.9 L815.1 402.9 L817.1 401.9 L819.1 400.9 L821 399.8 L823 398.7 L825 397.5 L826.9 396.3 L828.9 395 L830.9 393.7 L832.8 392.3 L834.8 390.9 L836.8 389.4 L838.7 387.8 L840.7 386.2 L842.7 384.5 L844.6 382.8 L846.6 380.9 L848.6 379 L850.5 377 L852.5 375 L854.5 372.8 L856.4 370.6 L858.4 368.2 L860.4 365.8 L862.3 363.2 L864.3 360.5 L866.3 357.7 L868.2 354.8 L870.2 351.7 L872.2 348.5 L874.1 345.2 L876.1 341.7 L878.1 338.1 L880 334.4 L882 330.4 L884 326.4 L885.9 322.1 L887.9 317.7 L889.9 313.1 L891.8 308.3 L893.8 303.3 L895.8 298.1 L897.7 292.6 L899.7 287 L901.7 281.1 L903.6 275 L905.6 268.6 L907.6 261.9 L909.5 255 L911.5 247.8 L913.5 240.3 L915.4 232.4 L917.4 224.3 L919.4 215.8" stroke="#000" stroke-width="2.4" stroke-dasharray="2.2 2.5"/>
<path d="M896.1 261.4 L1123 72.9" stroke="#000" stroke-width="2.4" stroke-dasharray="2.2 2.5"/>
<path d="M718.8 423 L771.8 413.6 L797 404.1 L811.7 393.9 L813.7 392.4 L815.7 390.9 L817.7 389.4 L819.7 387.8 L821.7 386.1 L823.7 384.4 L825.7 382.7 L827.7 380.9 L829.7 379 L831.7 377.1 L833.7 375.1 L835.7 373 L837.7 370.8 L839.7 368.6 L841.7 366.2 L843.7 363.8 L845.7 361.2 L847.7 358.5 L849.7 355.7 L851.7 352.8 L853.7 349.7 L855.7 346.5 L857.7 343.2 L859.7 339.7 L861.7 336.1 L863.7 332.4 L865.7 328.6 L867.7 324.7 L869.7 320.7 L871.7 316.6 L873.7 312.5 L875.7 308.4 L877.7 304.2 L879.7 299.9 L881.7 295.7 L883.7 291.4 L885.7 287.2 L887.7 282.9 L889.7 278.7 L891.7 274.5 L893.7 270.3 L895.7 266.2 L897.7 262.1 L899.7 258 L901.7 254 L903.7 250.1 L905.7 246.3 L907.7 242.5 L909.7 238.8 L911.7 235.1 L913.7 231.6 L915.7 228.2 L917.7 224.9 L919.7 221.7 L921.7 218.6 L923.7 215.6 L925.7 212.8 L927.7 210 L929.7 207.4 L931.7 204.8 L933.7 202.3 L935.7 199.9 L937.7 197.6 L939.7 195.3 L941.7 193.1 L943.7 191 L945.7 189 L947.7 187 L949.7 185 L951.7 183.1 L953.7 181.2 L955.7 179.3 L957.7 177.5 L959.7 175.7 L961.7 173.9 L963.7 172.1 L965.7 170.4 L967.7 168.6 L969.7 166.8 L971.7 165 L973.7 163.3 L975.7 161.5 L977.7 159.7 L979.7 157.9 L981.7 156.2 L983.7 154.4 L985.7 152.7 L987.7 150.9 L989.7 149.2 L991.7 147.4 L993.7 145.7 L995.7 144 L997.7 142.3 L999.7 140.6 L1001.7 138.9 L1003.7 137.2 L1005.7 135.6 L1007.7 133.9 L1009.7 132.3 L1011.7 130.7 L1013.7 129.1 L1015.7 127.5 L1017.7 126 L1019.7 124.4 L1021.7 122.9 L1023.7 121.4 L1025.7 119.9 L1027.7 118.5 L1029.7 117.1 L1031.7 115.7 L1033.7 114.3 L1035.7 113 L1037.7 111.7 L1039.7 110.4 L1041.7 109.1 L1043.7 107.9 L1045.7 106.7 L1047.7 105.5 L1049.7 104.3 L1051.7 103.2 L1053.7 102 L1055.7 100.9 L1057.7 99.8 L1059.7 98.6 L1061.7 97.5 L1063.7 96.4 L1065.7 95.2 L1067.7 94.1 L1069.7 92.9 L1071.7 91.8 L1073.7 90.6 L1075.7 89.3 L1077.7 88.1 L1079.7 86.8 L1081.7 85.5 L1083.7 84.2 L1085.7 82.8 L1087.7 81.4 L1089.7 79.9 L1091.7 78.5 L1093.7 77 L1094.2 76.6 L1106.2 67.5 L1118.1 60.2 L1128.9 58" stroke="#ff0000" stroke-width="2.4"/>
<path d="M718.8 425.8 L771.8 422 L797 417 L799 416.4 L801 415.8 L803 415.2 L805 414.5 L807 413.8 L809 413.2 L811 412.5 L813 411.7 L815 411 L817 410.2 L819 409.4 L821 408.6 L823 407.7 L825 406.8 L827 405.9 L829 405 L831 404.1 L833 403.1 L835 402.1 L837 401 L839 399.9 L841 398.8 L843 397.6 L845 396.4 L847 395.1 L849 393.8 L851 392.4 L853 391 L855 389.5 L857 387.9 L859 386.3 L861 384.6 L863 382.8 L865 381 L867 379 L869 377.1 L871 375 L873 372.8 L875 370.6 L877 368.3 L879 365.9 L881 363.4 L883 360.9 L885 358.3 L887 355.6 L889 352.9 L891 350 L893 347.2 L895 344.3 L897 341.3 L899 338.2 L901 335.1 L903 332 L905 328.8 L907 325.6 L909 322.4 L911 319.1 L913 315.9 L915 312.6 L917 309.4 L919 306.1 L921 302.9 L923 299.7 L925 296.6 L927 293.4 L929 290.3 L931 287.3 L933 284.2 L935 281.3 L937 278.3 L939 275.4 L941 272.6 L943 269.8 L945 267 L947 264.3 L949 261.6 L951 259 L953 256.5 L955 254 L957 251.6 L959 249.3 L961 247 L963 244.8 L965 242.6 L967 240.5 L969 238.5 L971 236.6 L973 234.7 L975 232.9 L977 231.1 L979 229.3 L981 227.7 L983 226 L985 224.4 L987 222.9 L989 221.4 L991 219.9 L993 218.4 L995 217 L997 215.6 L999 214.2 L1001 212.8 L1003 211.4 L1005 210.1 L1007 208.7 L1009 207.4 L1011 206 L1013 204.6 L1015 203.3 L1017 201.9 L1019 200.5 L1021 199.1 L1023 197.7 L1025 196.2 L1027 194.7 L1029 193.2 L1031 191.7 L1033 190.1 L1035 188.4 L1037 186.8 L1039 185.1 L1041 183.3 L1043 181.5 L1045 179.6 L1047 177.7 L1049 175.7 L1051 173.6 L1053 171.5 L1055 169.2 L1057 167 L1059 164.6 L1061 162.2 L1063 159.6 L1065 157 L1067 154.4 L1069 151.6 L1071 148.8 L1073 146 L1075 143.1 L1077 140.2 L1079 137.2 L1081 134.2 L1083 131.1 L1085 128.1 L1087 125 L1089 121.9 L1091 118.8 L1093 115.6 L1095 112.5 L1097 109.4 L1099 106.3 L1101 103.2 L1103 100.1 L1105 97.1 L1107 94.1 L1107.5 93.3 L1118.1 76.8 L1128.9 64.8" stroke="#0000ff" stroke-width="2.4"/>
<path d="M718.8 424.6 L771.8 417.8 L797 411 L799 410.3 L801 409.6 L803 408.8 L805 408 L807 407.2 L809 406.3 L811 405.5 L813 404.5 L815 403.6 L817 402.6 L819 401.6 L821 400.6 L823 399.5 L825 398.3 L827 397.1 L829 395.9 L831 394.6 L833 393.3 L835 391.8 L837 390.4 L839 388.8 L841 387.2 L843 385.5 L845 383.7 L847 381.8 L849 379.9 L851 377.8 L853 375.7 L855 373.4 L857 371 L859 368.6 L861 366 L863 363.3 L865 360.6 L867 357.8 L869 354.8 L871 351.8 L873 348.8 L875 345.6 L877 342.4 L879 339.2 L881 335.8 L883 332.5 L885 329.1 L887 325.6 L889 322.1 L891 318.6 L893 315.1 L895 311.5 L897 307.9 L899 304.3 L901 300.7 L903 297.1 L905 293.5 L907 289.9 L909 286.3 L911 282.8 L913 279.2 L915 275.7 L917 272.2 L919 268.8 L921 265.3 L923 262 L925 258.7 L927 255.4 L929 252.2 L931 249 L933 245.9 L935 242.9 L937 239.9 L939 237 L941 234.2 L943 231.5 L945 228.8 L947 226.2 L949 223.7 L951 221.3 L953 218.9 L955 216.6 L957 214.4 L959 212.2 L961 210 L963 207.9 L965 205.9 L967 203.9 L969 201.9 L971 200 L973 198.1 L975 196.3 L977 194.5 L979 192.7 L981 191 L983 189.3 L985 187.6 L987 185.9 L989 184.3 L991 182.7 L993 181.1 L995 179.5 L997 177.9 L999 176.3 L1001 174.8 L1003 173.2 L1005 171.6 L1007 170.1 L1009 168.5 L1011 166.9 L1013 165.3 L1015 163.7 L1017 162.1 L1019 160.5 L1021 158.9 L1023 157.2 L1025 155.6 L1027 153.9 L1029 152.1 L1031 150.4 L1033 148.6 L1035 146.8 L1037 145 L1039 143.2 L1041 141.3 L1043 139.5 L1045 137.6 L1047 135.7 L1049 133.8 L1051 131.8 L1053 129.9 L1055 127.9 L1057 126 L1059 124 L1061 122 L1063 120 L1065 117.9 L1067 115.9 L1069 113.9 L1071 111.8 L1073 109.8 L1075 107.7 L1077 105.6 L1079 103.5 L1081 101.4 L1083 99.4 L1085 97.3 L1087 95.2 L1089 93.1 L1091 91.1 L1093 89.1 L1095 87 L1097 85.1 L1099 83.1 L1101 81.2 L1103 79.3 L1105 77.5 L1106.2 76.5 L1118.1 66.2 L1128.9 61.5" stroke="#ff00ff" stroke-width="2.4"/>
</g>
</svg>
</body></html>
